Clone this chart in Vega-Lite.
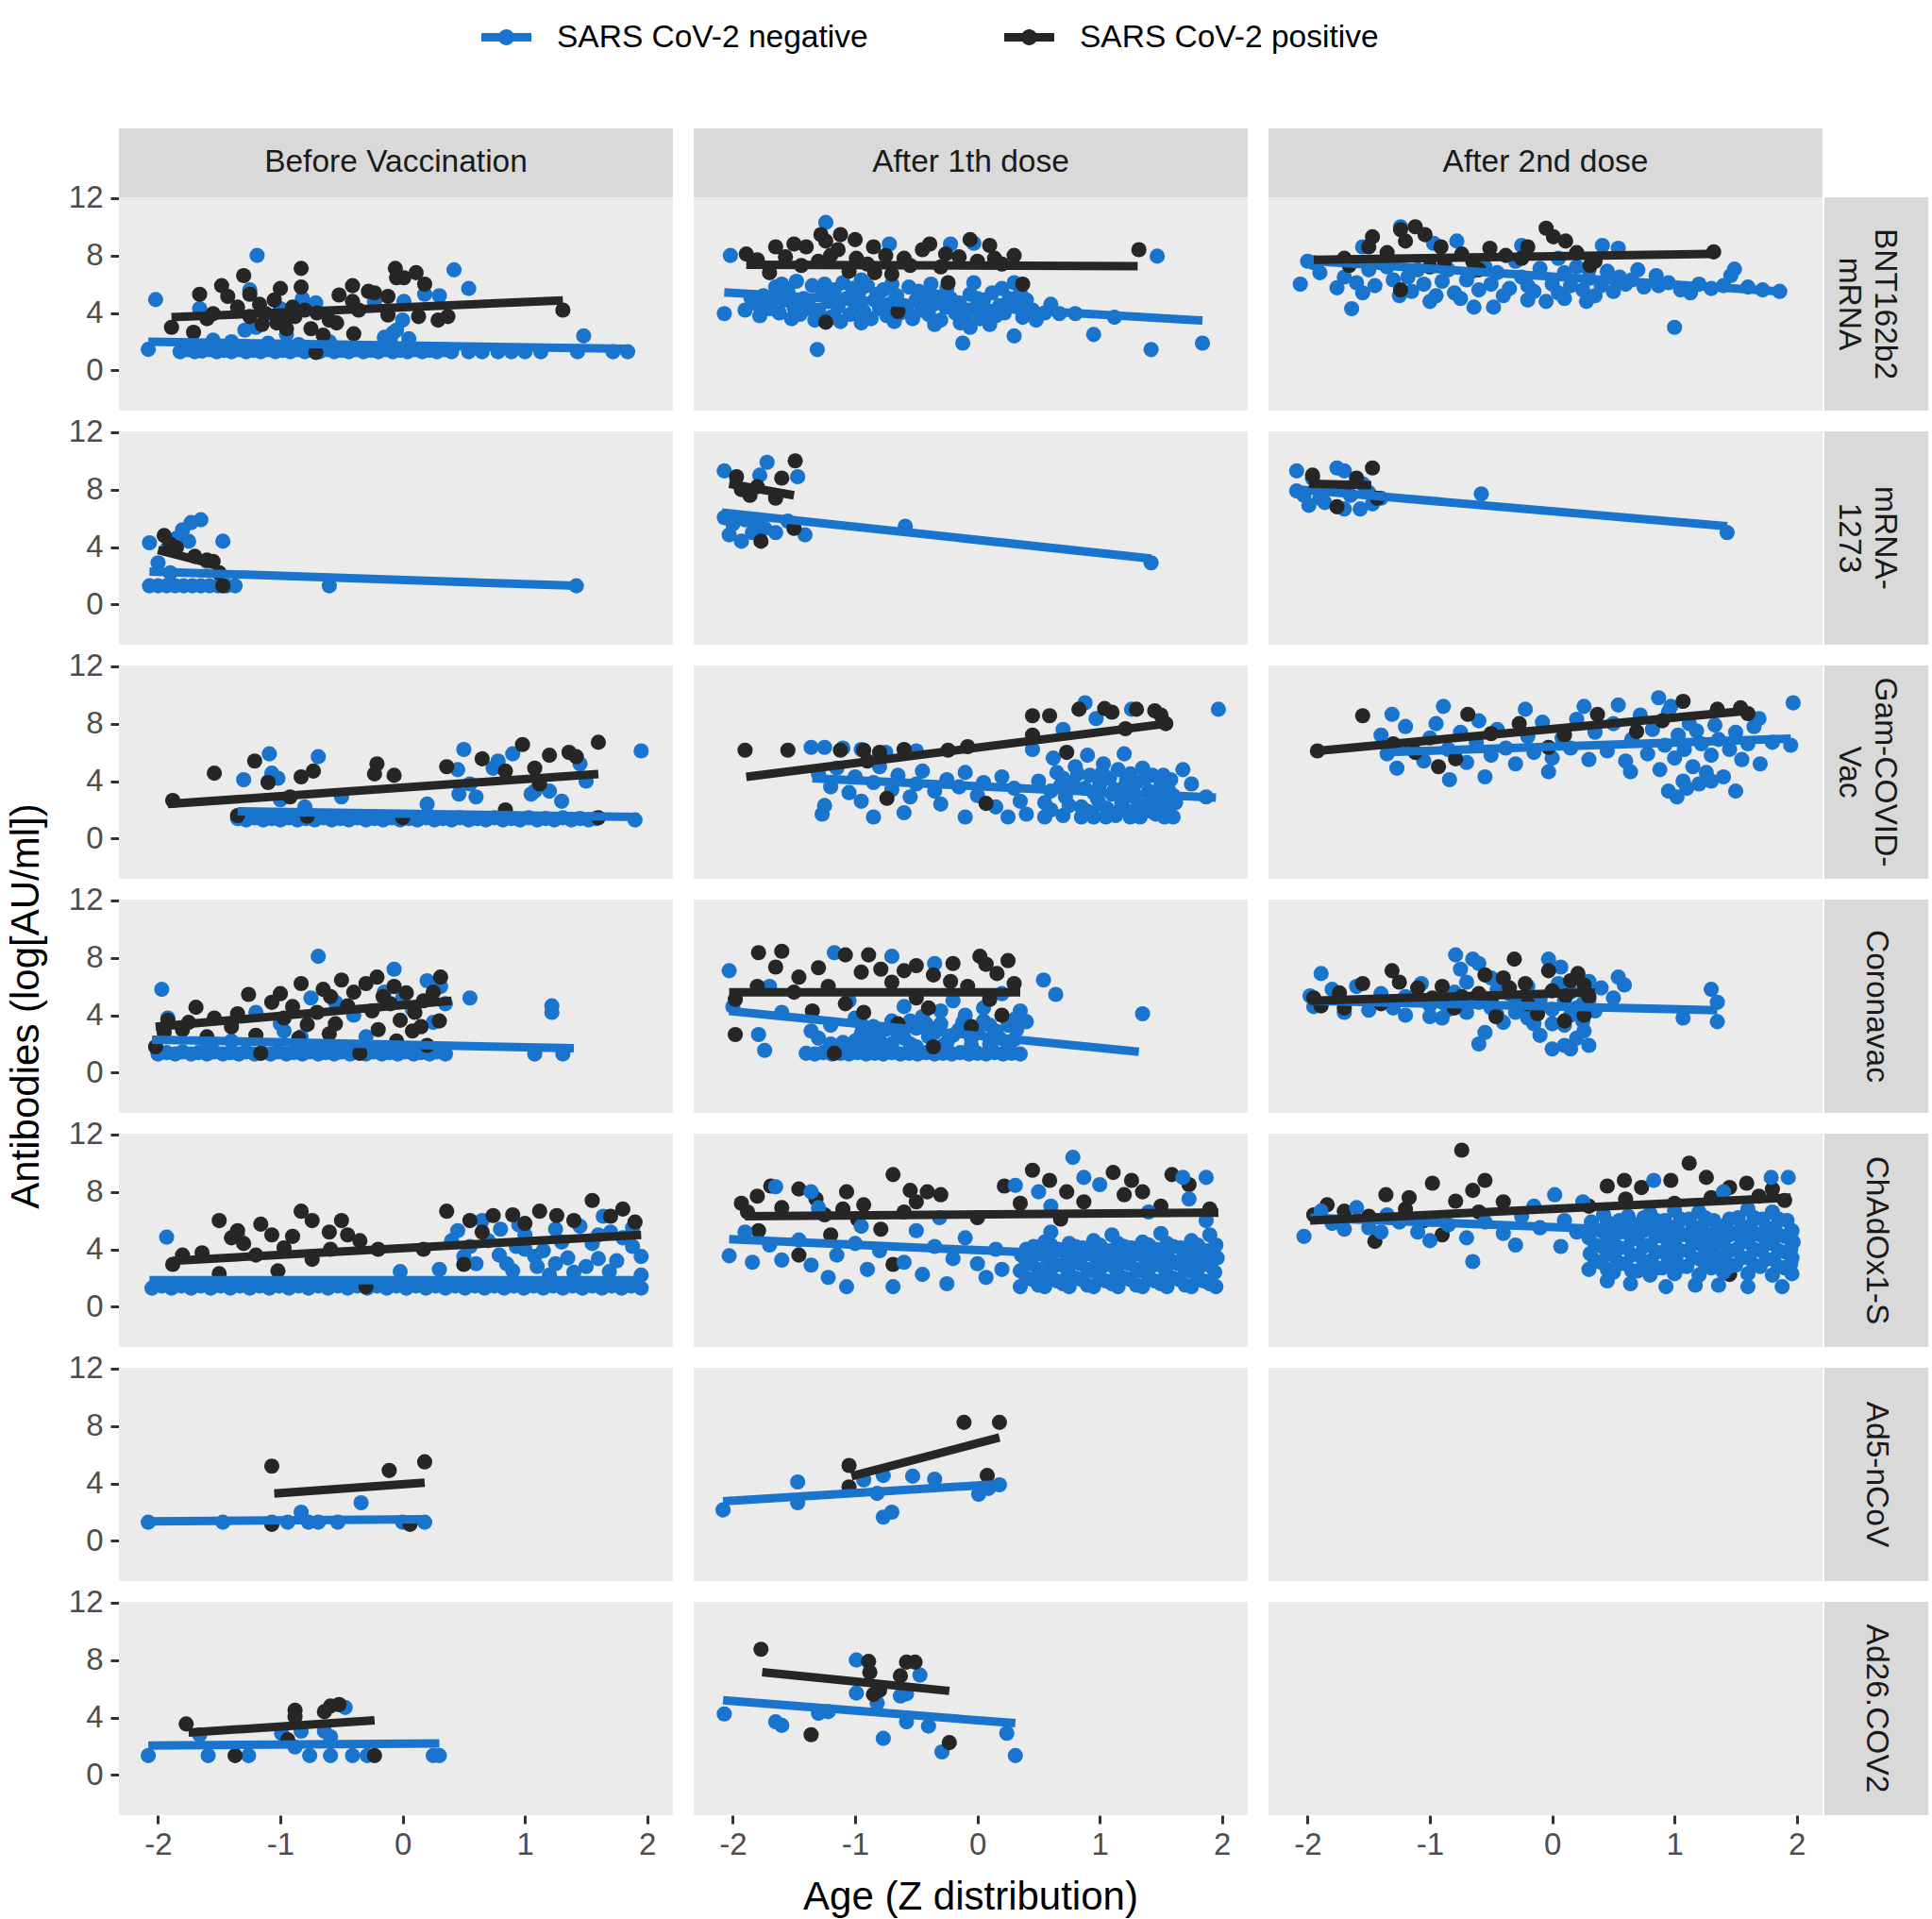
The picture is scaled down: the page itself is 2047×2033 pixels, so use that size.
{
"$schema":"https://vega.github.io/schema/vega-lite/v6.json",
"background":"white",
"padding":{"left":6,"top":13,"right":4,"bottom":2},
"data":{"values":[
{"k":"cell","v":1,"d":1,"cl":"Before Vaccination"},
{"k":"cell","v":1,"d":2,"cl":"After 1th dose"},
{"k":"cell","v":1,"d":3,"cl":"After 2nd dose","rl":"BNT162b2\nmRNA"},
{"k":"cell","v":2,"d":3,"rl":"mRNA-\n1273"},
{"k":"cell","v":3,"d":3,"rl":"Gam-COVID-\nVac"},
{"k":"cell","v":4,"d":3,"rl":"Coronavac"},
{"k":"cell","v":5,"d":3,"rl":"ChAdOx1-S"},
{"k":"cell","v":6,"d":3,"rl":"Ad5-nCoV"},
{"k":"cell","v":7,"d":3,"rl":"Ad26.COV2"},
{"k":"cell","v":4,"d":1,"yt":"Antibodies (log[AU/ml])"},
{"k":"cell","v":7,"d":2,"xt":"Age (Z distribution)"},
{"k":"line","v":1,"d":1,"g":"n","x":-2.08,"y":2.0},{"k":"line","v":1,"d":1,"g":"n","x":1.84,"y":1.5},
{"k":"line","v":1,"d":1,"g":"p","x":-1.89,"y":3.7},{"k":"line","v":1,"d":1,"g":"p","x":1.31,"y":4.87},
{"k":"line","v":1,"d":2,"g":"n","x":-2.07,"y":5.43},{"k":"line","v":1,"d":2,"g":"n","x":1.84,"y":3.47},
{"k":"line","v":1,"d":2,"g":"p","x":-1.89,"y":7.35},{"k":"line","v":1,"d":2,"g":"p","x":1.31,"y":7.25},
{"k":"line","v":1,"d":3,"g":"n","x":-2.03,"y":7.65},{"k":"line","v":1,"d":3,"g":"n","x":1.86,"y":5.5},
{"k":"line","v":1,"d":3,"g":"p","x":-1.95,"y":7.7},{"k":"line","v":1,"d":3,"g":"p","x":1.3,"y":8.1},
{"k":"line","v":2,"d":1,"g":"n","x":-2.07,"y":2.3},{"k":"line","v":2,"d":1,"g":"n","x":1.42,"y":1.3},
{"k":"line","v":2,"d":1,"g":"p","x":-2.0,"y":3.8},{"k":"line","v":2,"d":1,"g":"p","x":-1.5,"y":2.7},
{"k":"line","v":2,"d":2,"g":"n","x":-2.09,"y":6.4},{"k":"line","v":2,"d":2,"g":"n","x":1.42,"y":3.2},
{"k":"line","v":2,"d":2,"g":"p","x":-2.03,"y":8.4},{"k":"line","v":2,"d":2,"g":"p","x":-1.5,"y":7.6},
{"k":"line","v":2,"d":3,"g":"n","x":-2.06,"y":8.0},{"k":"line","v":2,"d":3,"g":"n","x":1.43,"y":5.45},
{"k":"line","v":2,"d":3,"g":"p","x":-1.99,"y":8.4},{"k":"line","v":2,"d":3,"g":"p","x":-1.48,"y":8.3},
{"k":"line","v":3,"d":1,"g":"n","x":-1.35,"y":1.9},{"k":"line","v":3,"d":1,"g":"n","x":1.93,"y":1.5},
{"k":"line","v":3,"d":1,"g":"p","x":-1.92,"y":2.4},{"k":"line","v":3,"d":1,"g":"p","x":1.6,"y":4.5},
{"k":"line","v":3,"d":2,"g":"n","x":-1.35,"y":4.2},{"k":"line","v":3,"d":2,"g":"n","x":1.95,"y":2.85},
{"k":"line","v":3,"d":2,"g":"p","x":-1.89,"y":4.3},{"k":"line","v":3,"d":2,"g":"p","x":1.55,"y":8.0},
{"k":"line","v":3,"d":3,"g":"n","x":-1.4,"y":6.0},{"k":"line","v":3,"d":3,"g":"n","x":1.95,"y":6.95},
{"k":"line","v":3,"d":3,"g":"p","x":-1.92,"y":6.1},{"k":"line","v":3,"d":3,"g":"p","x":1.6,"y":8.9},
{"k":"line","v":4,"d":1,"g":"n","x":-2.05,"y":2.3},{"k":"line","v":4,"d":1,"g":"n","x":1.4,"y":1.7},
{"k":"line","v":4,"d":1,"g":"p","x":-2.02,"y":3.2},{"k":"line","v":4,"d":1,"g":"p","x":0.4,"y":5.0},
{"k":"line","v":4,"d":2,"g":"n","x":-2.03,"y":4.3},{"k":"line","v":4,"d":2,"g":"n","x":1.32,"y":1.45},
{"k":"line","v":4,"d":2,"g":"p","x":-2.03,"y":5.6},{"k":"line","v":4,"d":2,"g":"p","x":0.35,"y":5.6},
{"k":"line","v":4,"d":3,"g":"n","x":-1.98,"y":5.0},{"k":"line","v":4,"d":3,"g":"n","x":1.35,"y":4.35},
{"k":"line","v":4,"d":3,"g":"p","x":-1.98,"y":5.0},{"k":"line","v":4,"d":3,"g":"p","x":0.35,"y":5.6},
{"k":"line","v":5,"d":1,"g":"n","x":-2.07,"y":1.85},{"k":"line","v":5,"d":1,"g":"n","x":1.97,"y":1.85},
{"k":"line","v":5,"d":1,"g":"p","x":-1.88,"y":3.2},{"k":"line","v":5,"d":1,"g":"p","x":1.95,"y":5.0},
{"k":"line","v":5,"d":2,"g":"n","x":-2.03,"y":4.7},{"k":"line","v":5,"d":2,"g":"n","x":1.97,"y":3.2},
{"k":"line","v":5,"d":2,"g":"p","x":-1.9,"y":6.3},{"k":"line","v":5,"d":2,"g":"p","x":1.97,"y":6.55},
{"k":"line","v":5,"d":3,"g":"n","x":-1.98,"y":6.2},{"k":"line","v":5,"d":3,"g":"n","x":1.95,"y":4.9},
{"k":"line","v":5,"d":3,"g":"p","x":-1.98,"y":6.0},{"k":"line","v":5,"d":3,"g":"p","x":1.95,"y":7.6},
{"k":"line","v":6,"d":1,"g":"n","x":-2.08,"y":1.35},{"k":"line","v":6,"d":1,"g":"n","x":0.18,"y":1.5},
{"k":"line","v":6,"d":1,"g":"p","x":-1.05,"y":3.3},{"k":"line","v":6,"d":1,"g":"p","x":0.18,"y":4.05},
{"k":"line","v":6,"d":2,"g":"n","x":-2.08,"y":2.75},{"k":"line","v":6,"d":2,"g":"n","x":0.18,"y":3.95},
{"k":"line","v":6,"d":2,"g":"p","x":-1.03,"y":4.5},{"k":"line","v":6,"d":2,"g":"p","x":0.18,"y":7.2},
{"k":"line","v":7,"d":1,"g":"n","x":-2.08,"y":2.05},{"k":"line","v":7,"d":1,"g":"n","x":0.3,"y":2.2},
{"k":"line","v":7,"d":1,"g":"p","x":-1.75,"y":2.95},{"k":"line","v":7,"d":1,"g":"p","x":-0.23,"y":3.8},
{"k":"line","v":7,"d":2,"g":"n","x":-2.08,"y":5.2},{"k":"line","v":7,"d":2,"g":"n","x":0.31,"y":3.6},
{"k":"line","v":7,"d":2,"g":"p","x":-1.76,"y":7.15},{"k":"line","v":7,"d":2,"g":"p","x":-0.23,"y":5.85},

{"v":1,"d":1,"g":"n","x":-2.08,"y":1.46},{"v":1,"d":1,"g":"n","x":-1.82,"y":1.3},{"v":1,"d":1,"g":"n","x":-1.76,"y":1.45},{"v":1,"d":1,"g":"n","x":-1.7,"y":1.3},{"v":1,"d":1,"g":"n","x":-1.64,"y":1.35},{"v":1,"d":1,"g":"n","x":-1.58,"y":1.45},{"v":1,"d":1,"g":"n","x":-1.52,"y":1.3},{"v":1,"d":1,"g":"n","x":-1.46,"y":1.4},{"v":1,"d":1,"g":"n","x":-1.4,"y":1.3},{"v":1,"d":1,"g":"n","x":-1.34,"y":1.45},{"v":1,"d":1,"g":"n","x":-1.28,"y":1.3},{"v":1,"d":1,"g":"n","x":-1.22,"y":1.4},{"v":1,"d":1,"g":"n","x":-1.16,"y":1.3},{"v":1,"d":1,"g":"n","x":-1.1,"y":1.45},{"v":1,"d":1,"g":"n","x":-1.04,"y":1.3},{"v":1,"d":1,"g":"n","x":-0.98,"y":1.4},{"v":1,"d":1,"g":"n","x":-0.92,"y":1.3},{"v":1,"d":1,"g":"n","x":-0.86,"y":1.45},{"v":1,"d":1,"g":"n","x":-0.8,"y":1.3},{"v":1,"d":1,"g":"n","x":-0.74,"y":1.4},{"v":1,"d":1,"g":"n","x":-0.68,"y":1.3},{"v":1,"d":1,"g":"n","x":-0.62,"y":1.45},{"v":1,"d":1,"g":"n","x":-0.56,"y":1.3},{"v":1,"d":1,"g":"n","x":-0.5,"y":1.4},{"v":1,"d":1,"g":"n","x":-0.44,"y":1.3},{"v":1,"d":1,"g":"n","x":-0.38,"y":1.45},{"v":1,"d":1,"g":"n","x":-0.32,"y":1.3},{"v":1,"d":1,"g":"n","x":-0.26,"y":1.4},{"v":1,"d":1,"g":"n","x":-0.2,"y":1.3},{"v":1,"d":1,"g":"n","x":-0.14,"y":1.45},{"v":1,"d":1,"g":"n","x":-0.08,"y":1.3},{"v":1,"d":1,"g":"n","x":-0.02,"y":1.4},{"v":1,"d":1,"g":"n","x":0.04,"y":1.3},{"v":1,"d":1,"g":"n","x":0.1,"y":1.45},{"v":1,"d":1,"g":"n","x":0.16,"y":1.3},{"v":1,"d":1,"g":"n","x":0.22,"y":1.4},{"v":1,"d":1,"g":"n","x":0.28,"y":1.3},{"v":1,"d":1,"g":"n","x":0.34,"y":1.45},{"v":1,"d":1,"g":"n","x":0.4,"y":1.3},{"v":1,"d":1,"g":"n","x":0.54,"y":1.3},{"v":1,"d":1,"g":"n","x":0.65,"y":1.3},{"v":1,"d":1,"g":"n","x":0.78,"y":1.3},{"v":1,"d":1,"g":"n","x":0.89,"y":1.3},{"v":1,"d":1,"g":"n","x":1.0,"y":1.3},{"v":1,"d":1,"g":"n","x":1.13,"y":1.3},{"v":1,"d":1,"g":"n","x":1.43,"y":1.3},{"v":1,"d":1,"g":"n","x":1.72,"y":1.3},{"v":1,"d":1,"g":"n","x":1.84,"y":1.3},
{"v":1,"d":1,"g":"n","x":-2.02,"y":4.93},{"v":1,"d":1,"g":"n","x":-1.19,"y":8.0},{"v":1,"d":1,"g":"n","x":1.48,"y":2.4},{"v":1,"d":1,"g":"n","x":0.42,"y":7.0},{"v":1,"d":1,"g":"n","x":0.54,"y":5.7},{"v":1,"d":1,"g":"n","x":0.3,"y":5.2},{"v":1,"d":1,"g":"n","x":0.18,"y":5.3},{"v":1,"d":1,"g":"n","x":-0.08,"y":2.6},{"v":1,"d":1,"g":"n","x":-0.15,"y":2.3},{"v":1,"d":1,"g":"n","x":-0.71,"y":4.7},{"v":1,"d":1,"g":"n","x":-0.82,"y":5.0},{"v":1,"d":1,"g":"n","x":-1.25,"y":5.6},{"v":1,"d":1,"g":"n","x":-1.29,"y":2.8},{"v":1,"d":1,"g":"n","x":-1.66,"y":4.3},{"v":1,"d":1,"g":"n","x":-1.55,"y":2.1},{"v":1,"d":1,"g":"n","x":-1.0,"y":4.3},{"v":1,"d":1,"g":"n","x":-0.23,"y":4.8},{"v":1,"d":1,"g":"n","x":0.01,"y":4.8},{"v":1,"d":1,"g":"n","x":-0.1,"y":2.0},{"v":1,"d":1,"g":"n","x":0.05,"y":2.2},{"v":1,"d":1,"g":"n","x":-1.1,"y":1.9},{"v":1,"d":1,"g":"n","x":-0.6,"y":2.0},{"v":1,"d":1,"g":"n","x":-0.85,"y":1.8},{"v":1,"d":1,"g":"n","x":-1.4,"y":2.0},{"v":1,"d":1,"g":"n","x":0.0,"y":3.5},{"v":1,"d":1,"g":"n","x":-0.05,"y":2.8},{"v":1,"d":1,"g":"n","x":-1.2,"y":3.0},{"v":1,"d":1,"g":"n","x":-0.95,"y":2.5},
{"v":1,"d":1,"g":"p","x":-1.89,"y":3.0},{"v":1,"d":1,"g":"p","x":-1.66,"y":5.3},{"v":1,"d":1,"g":"p","x":-1.71,"y":2.65},{"v":1,"d":1,"g":"p","x":-1.55,"y":3.95},{"v":1,"d":1,"g":"p","x":-1.48,"y":5.9},{"v":1,"d":1,"g":"p","x":-1.43,"y":5.15},{"v":1,"d":1,"g":"p","x":-1.3,"y":6.6},{"v":1,"d":1,"g":"p","x":-1.25,"y":5.3},{"v":1,"d":1,"g":"p","x":-1.25,"y":3.75},{"v":1,"d":1,"g":"p","x":-1.17,"y":4.6},{"v":1,"d":1,"g":"p","x":-1.12,"y":3.95},{"v":1,"d":1,"g":"p","x":-1.0,"y":5.7},{"v":1,"d":1,"g":"p","x":-1.03,"y":3.3},{"v":1,"d":1,"g":"p","x":-0.95,"y":2.9},{"v":1,"d":1,"g":"p","x":-0.88,"y":3.75},{"v":1,"d":1,"g":"p","x":-0.83,"y":7.1},{"v":1,"d":1,"g":"p","x":-0.83,"y":5.8},{"v":1,"d":1,"g":"p","x":-0.8,"y":4.2},{"v":1,"d":1,"g":"p","x":-0.65,"y":2.45},{"v":1,"d":1,"g":"p","x":-0.71,"y":1.25},{"v":1,"d":1,"g":"p","x":-0.52,"y":5.25},{"v":1,"d":1,"g":"p","x":-0.54,"y":3.3},{"v":1,"d":1,"g":"p","x":-0.41,"y":5.9},{"v":1,"d":1,"g":"p","x":-0.41,"y":4.8},{"v":1,"d":1,"g":"p","x":-0.4,"y":2.55},{"v":1,"d":1,"g":"p","x":-0.36,"y":4.2},{"v":1,"d":1,"g":"p","x":-0.28,"y":5.5},{"v":1,"d":1,"g":"p","x":-0.23,"y":5.4},{"v":1,"d":1,"g":"p","x":-0.12,"y":5.15},{"v":1,"d":1,"g":"p","x":-0.06,"y":7.1},{"v":1,"d":1,"g":"p","x":-0.05,"y":6.45},{"v":1,"d":1,"g":"p","x":0.01,"y":6.45},{"v":1,"d":1,"g":"p","x":0.11,"y":6.8},{"v":1,"d":1,"g":"p","x":0.18,"y":6.0},{"v":1,"d":1,"g":"p","x":-0.12,"y":3.85},{"v":1,"d":1,"g":"p","x":0.13,"y":3.75},{"v":1,"d":1,"g":"p","x":0.29,"y":3.5},{"v":1,"d":1,"g":"p","x":0.37,"y":3.75},{"v":1,"d":1,"g":"p","x":1.31,"y":4.2},{"v":1,"d":1,"g":"p","x":-1.6,"y":3.6},{"v":1,"d":1,"g":"p","x":-1.35,"y":4.4},{"v":1,"d":1,"g":"p","x":-1.05,"y":4.9},{"v":1,"d":1,"g":"p","x":-0.95,"y":3.6},{"v":1,"d":1,"g":"p","x":-0.7,"y":4.0},{"v":1,"d":1,"g":"p","x":-0.6,"y":3.5},{"v":1,"d":1,"g":"p","x":-0.9,"y":4.4},{"v":1,"d":1,"g":"p","x":-1.15,"y":3.2},{"v":1,"d":1,"g":"p","x":-0.75,"y":2.9},

{"v":1,"d":2,"g":"n","x":-2.07,"y":3.95},{"v":1,"d":2,"g":"n","x":-2.02,"y":8.0},{"v":1,"d":2,"g":"n","x":-1.8,"y":4.6},{"v":1,"d":2,"g":"n","x":-1.75,"y":5.2},{"v":1,"d":2,"g":"n","x":-1.7,"y":4.3},{"v":1,"d":2,"g":"n","x":-1.65,"y":5.8},{"v":1,"d":2,"g":"n","x":-1.62,"y":4.0},{"v":1,"d":2,"g":"n","x":-1.58,"y":4.9},{"v":1,"d":2,"g":"n","x":-1.55,"y":5.5},{"v":1,"d":2,"g":"n","x":-1.5,"y":4.4},{"v":1,"d":2,"g":"n","x":-1.45,"y":3.9},{"v":1,"d":2,"g":"n","x":-1.42,"y":5.0},{"v":1,"d":2,"g":"n","x":-1.38,"y":4.6},{"v":1,"d":2,"g":"n","x":-1.35,"y":5.9},{"v":1,"d":2,"g":"n","x":-1.31,"y":1.45},{"v":1,"d":2,"g":"n","x":-1.3,"y":4.2},{"v":1,"d":2,"g":"n","x":-1.27,"y":5.3},{"v":1,"d":2,"g":"n","x":-1.24,"y":10.3},{"v":1,"d":2,"g":"n","x":-1.22,"y":4.8},{"v":1,"d":2,"g":"n","x":-1.2,"y":3.7},{"v":1,"d":2,"g":"n","x":-1.17,"y":5.6},{"v":1,"d":2,"g":"n","x":-1.14,"y":4.4},{"v":1,"d":2,"g":"n","x":-1.1,"y":6.1},{"v":1,"d":2,"g":"n","x":-1.07,"y":5.0},{"v":1,"d":2,"g":"n","x":-1.04,"y":3.9},{"v":1,"d":2,"g":"n","x":-1.0,"y":4.6},{"v":1,"d":2,"g":"n","x":-0.97,"y":5.4},{"v":1,"d":2,"g":"n","x":-0.93,"y":4.1},{"v":1,"d":2,"g":"n","x":-0.9,"y":5.9},{"v":1,"d":2,"g":"n","x":-0.87,"y":3.6},{"v":1,"d":2,"g":"n","x":-0.84,"y":4.9},{"v":1,"d":2,"g":"n","x":-0.8,"y":4.3},{"v":1,"d":2,"g":"n","x":-0.77,"y":5.6},{"v":1,"d":2,"g":"n","x":-0.74,"y":3.8},{"v":1,"d":2,"g":"n","x":-0.72,"y":8.8},{"v":1,"d":2,"g":"n","x":-0.7,"y":4.7},{"v":1,"d":2,"g":"n","x":-0.66,"y":5.2},{"v":1,"d":2,"g":"n","x":-0.63,"y":4.0},{"v":1,"d":2,"g":"n","x":-0.6,"y":4.5},{"v":1,"d":2,"g":"n","x":-0.56,"y":5.8},{"v":1,"d":2,"g":"n","x":-0.53,"y":3.6},{"v":1,"d":2,"g":"n","x":-0.5,"y":4.9},{"v":1,"d":2,"g":"n","x":-0.46,"y":4.2},{"v":1,"d":2,"g":"n","x":-0.43,"y":5.4},{"v":1,"d":2,"g":"n","x":-0.4,"y":3.9},{"v":1,"d":2,"g":"n","x":-0.36,"y":4.6},{"v":1,"d":2,"g":"n","x":-0.33,"y":5.1},{"v":1,"d":2,"g":"n","x":-0.3,"y":3.5},{"v":1,"d":2,"g":"n","x":-0.26,"y":4.4},{"v":1,"d":2,"g":"n","x":-0.22,"y":8.8},{"v":1,"d":2,"g":"n","x":-0.22,"y":5.0},{"v":1,"d":2,"g":"n","x":-0.18,"y":4.0},{"v":1,"d":2,"g":"n","x":-0.15,"y":4.7},{"v":1,"d":2,"g":"n","x":-0.12,"y":1.9},{"v":1,"d":2,"g":"n","x":-0.1,"y":3.7},{"v":1,"d":2,"g":"n","x":-0.06,"y":3.0},{"v":1,"d":2,"g":"n","x":-0.06,"y":5.3},{"v":1,"d":2,"g":"n","x":-0.03,"y":8.85},{"v":1,"d":2,"g":"n","x":-0.03,"y":6.1},{"v":1,"d":2,"g":"n","x":-0.02,"y":4.3},{"v":1,"d":2,"g":"n","x":0.02,"y":3.6},{"v":1,"d":2,"g":"n","x":0.05,"y":4.9},{"v":1,"d":2,"g":"n","x":0.08,"y":4.1},{"v":1,"d":2,"g":"n","x":0.12,"y":5.4},{"v":1,"d":2,"g":"n","x":0.15,"y":3.8},{"v":1,"d":2,"g":"n","x":0.18,"y":4.5},{"v":1,"d":2,"g":"n","x":0.22,"y":4.0},{"v":1,"d":2,"g":"n","x":0.26,"y":5.0},{"v":1,"d":2,"g":"n","x":0.3,"y":2.4},{"v":1,"d":2,"g":"n","x":0.3,"y":6.1},{"v":1,"d":2,"g":"n","x":0.33,"y":4.4},{"v":1,"d":2,"g":"n","x":0.37,"y":3.7},{"v":1,"d":2,"g":"n","x":0.4,"y":4.9},{"v":1,"d":2,"g":"n","x":0.45,"y":4.2},{"v":1,"d":2,"g":"n","x":0.67,"y":3.95},{"v":1,"d":2,"g":"n","x":0.8,"y":3.95},{"v":1,"d":2,"g":"n","x":0.95,"y":2.5},{"v":1,"d":2,"g":"n","x":1.12,"y":3.7},{"v":1,"d":2,"g":"n","x":1.42,"y":1.45},{"v":1,"d":2,"g":"n","x":1.47,"y":7.95},{"v":1,"d":2,"g":"n","x":1.84,"y":1.9},{"v":1,"d":2,"g":"n","x":0.55,"y":4.0},{"v":1,"d":2,"g":"n","x":-1.6,"y":6.0},{"v":1,"d":2,"g":"n","x":-1.48,"y":6.2},{"v":1,"d":2,"g":"n","x":-0.95,"y":6.3},{"v":1,"d":2,"g":"n","x":-0.38,"y":6.0},
{"v":1,"d":2,"g":"n","x":-1.85,"y":5.0},{"v":1,"d":2,"g":"n","x":-1.78,"y":3.8},{"v":1,"d":2,"g":"n","x":-1.68,"y":4.8},{"v":1,"d":2,"g":"n","x":-1.52,"y":3.6},{"v":1,"d":2,"g":"n","x":-1.4,"y":4.3},{"v":1,"d":2,"g":"n","x":-1.33,"y":3.5},{"v":1,"d":2,"g":"n","x":-1.25,"y":6.0},{"v":1,"d":2,"g":"n","x":-1.12,"y":3.4},{"v":1,"d":2,"g":"n","x":-1.02,"y":5.7},{"v":1,"d":2,"g":"n","x":-0.95,"y":3.3},{"v":1,"d":2,"g":"n","x":-0.82,"y":5.3},{"v":1,"d":2,"g":"n","x":-0.68,"y":3.4},{"v":1,"d":2,"g":"n","x":-0.58,"y":4.2},{"v":1,"d":2,"g":"n","x":-0.48,"y":5.5},{"v":1,"d":2,"g":"n","x":-0.35,"y":3.2},{"v":1,"d":2,"g":"n","x":-0.25,"y":5.7},{"v":1,"d":2,"g":"n","x":-0.14,"y":3.3},{"v":1,"d":2,"g":"n","x":0.0,"y":5.0},{"v":1,"d":2,"g":"n","x":0.1,"y":3.2},{"v":1,"d":2,"g":"n","x":0.2,"y":5.7},{"v":1,"d":2,"g":"n","x":0.35,"y":5.4},{"v":1,"d":2,"g":"n","x":0.48,"y":3.5},{"v":1,"d":2,"g":"n","x":0.6,"y":4.6},{"v":1,"d":2,"g":"n","x":-1.9,"y":4.2},{"v":1,"d":2,"g":"n","x":-0.7,"y":6.0},
{"v":1,"d":2,"g":"p","x":-1.89,"y":8.1},{"v":1,"d":2,"g":"p","x":-1.65,"y":8.6},{"v":1,"d":2,"g":"p","x":-1.5,"y":8.8},{"v":1,"d":2,"g":"p","x":-1.4,"y":8.6},{"v":1,"d":2,"g":"p","x":-1.28,"y":9.45},{"v":1,"d":2,"g":"p","x":-1.24,"y":9.0},{"v":1,"d":2,"g":"p","x":-1.12,"y":9.45},{"v":1,"d":2,"g":"p","x":-1.0,"y":9.1},{"v":1,"d":2,"g":"p","x":-1.14,"y":8.4},{"v":1,"d":2,"g":"p","x":-0.99,"y":7.8},{"v":1,"d":2,"g":"p","x":-0.85,"y":8.6},{"v":1,"d":2,"g":"p","x":-0.84,"y":6.8},{"v":1,"d":2,"g":"p","x":-0.7,"y":6.7},{"v":1,"d":2,"g":"p","x":-1.7,"y":6.8},{"v":1,"d":2,"g":"p","x":-1.57,"y":7.9},{"v":1,"d":2,"g":"p","x":-1.44,"y":7.3},{"v":1,"d":2,"g":"p","x":-1.24,"y":3.35},{"v":1,"d":2,"g":"p","x":-0.65,"y":4.1},{"v":1,"d":2,"g":"p","x":-0.45,"y":8.4},{"v":1,"d":2,"g":"p","x":-0.39,"y":8.8},{"v":1,"d":2,"g":"p","x":-0.26,"y":8.1},{"v":1,"d":2,"g":"p","x":-0.06,"y":9.1},{"v":1,"d":2,"g":"p","x":0.1,"y":8.7},{"v":1,"d":2,"g":"p","x":0.14,"y":7.8},{"v":1,"d":2,"g":"p","x":0.3,"y":8.0},{"v":1,"d":2,"g":"p","x":-0.24,"y":6.1},{"v":1,"d":2,"g":"p","x":0.37,"y":6.0},{"v":1,"d":2,"g":"p","x":1.32,"y":8.4},{"v":1,"d":2,"g":"p","x":-0.55,"y":7.3},{"v":1,"d":2,"g":"p","x":-1.3,"y":7.6},{"v":1,"d":2,"g":"p","x":-1.8,"y":7.7},{"v":1,"d":2,"g":"p","x":-1.2,"y":8.0},{"v":1,"d":2,"g":"p","x":-0.9,"y":7.4},{"v":1,"d":2,"g":"p","x":-0.6,"y":7.8},{"v":1,"d":2,"g":"p","x":-0.3,"y":7.2},{"v":1,"d":2,"g":"p","x":0.0,"y":7.6},{"v":1,"d":2,"g":"p","x":0.2,"y":7.4},{"v":1,"d":2,"g":"p","x":-1.05,"y":6.9},{"v":1,"d":2,"g":"p","x":-0.15,"y":7.9},{"v":1,"d":2,"g":"p","x":-0.75,"y":8.0},

{"v":1,"d":3,"g":"n","x":-2.06,"y":6.0},{"v":1,"d":3,"g":"n","x":-2.0,"y":7.6},{"v":1,"d":3,"g":"n","x":-1.95,"y":7.5},{"v":1,"d":3,"g":"n","x":-1.76,"y":5.75},{"v":1,"d":3,"g":"n","x":-1.64,"y":4.3},{"v":1,"d":3,"g":"n","x":-1.6,"y":6.1},{"v":1,"d":3,"g":"n","x":-1.55,"y":5.4},{"v":1,"d":3,"g":"n","x":-1.45,"y":5.9},{"v":1,"d":3,"g":"n","x":-1.24,"y":10.0},{"v":1,"d":3,"g":"n","x":-1.18,"y":6.5},{"v":1,"d":3,"g":"n","x":-1.0,"y":4.8},{"v":1,"d":3,"g":"n","x":-1.1,"y":7.0},{"v":1,"d":3,"g":"n","x":-0.9,"y":6.2},{"v":1,"d":3,"g":"n","x":-0.8,"y":5.4},{"v":1,"d":3,"g":"n","x":-0.64,"y":4.4},{"v":1,"d":3,"g":"n","x":-0.48,"y":4.4},{"v":1,"d":3,"g":"n","x":-0.05,"y":4.8},{"v":1,"d":3,"g":"n","x":0.28,"y":4.8},{"v":1,"d":3,"g":"n","x":0.41,"y":8.7},{"v":1,"d":3,"g":"n","x":0.54,"y":8.5},{"v":1,"d":3,"g":"n","x":0.6,"y":6.0},{"v":1,"d":3,"g":"n","x":0.87,"y":5.9},{"v":1,"d":3,"g":"n","x":1.0,"y":3.0},{"v":1,"d":3,"g":"n","x":1.13,"y":5.4},{"v":1,"d":3,"g":"n","x":1.46,"y":6.6},{"v":1,"d":3,"g":"n","x":1.49,"y":7.05},{"v":1,"d":3,"g":"n","x":1.72,"y":5.6},{"v":1,"d":3,"g":"n","x":1.86,"y":5.5},{"v":1,"d":3,"g":"n","x":-0.25,"y":8.7},{"v":1,"d":3,"g":"n","x":-0.78,"y":9.0},{"v":1,"d":3,"g":"n","x":-0.97,"y":8.85},{"v":1,"d":3,"g":"n","x":-0.7,"y":6.3},{"v":1,"d":3,"g":"n","x":-0.6,"y":5.6},{"v":1,"d":3,"g":"n","x":-0.45,"y":6.8},{"v":1,"d":3,"g":"n","x":-0.35,"y":5.7},{"v":1,"d":3,"g":"n","x":-0.25,"y":6.5},{"v":1,"d":3,"g":"n","x":-0.15,"y":5.5},{"v":1,"d":3,"g":"n","x":-0.1,"y":7.1},{"v":1,"d":3,"g":"n","x":0.0,"y":6.0},{"v":1,"d":3,"g":"n","x":0.05,"y":5.4},{"v":1,"d":3,"g":"n","x":0.1,"y":6.8},{"v":1,"d":3,"g":"n","x":0.15,"y":5.9},{"v":1,"d":3,"g":"n","x":0.2,"y":7.2},{"v":1,"d":3,"g":"n","x":0.25,"y":5.6},{"v":1,"d":3,"g":"n","x":0.3,"y":6.4},{"v":1,"d":3,"g":"n","x":0.4,"y":5.9},{"v":1,"d":3,"g":"n","x":0.45,"y":6.9},{"v":1,"d":3,"g":"n","x":0.5,"y":5.5},{"v":1,"d":3,"g":"n","x":0.65,"y":6.3},{"v":1,"d":3,"g":"n","x":0.75,"y":5.8},{"v":1,"d":3,"g":"n","x":0.95,"y":6.1},{"v":1,"d":3,"g":"n","x":1.2,"y":6.0},{"v":1,"d":3,"g":"n","x":1.3,"y":5.7},{"v":1,"d":3,"g":"n","x":-1.3,"y":6.3},{"v":1,"d":3,"g":"n","x":-1.15,"y":5.5},{"v":1,"d":3,"g":"n","x":-0.55,"y":7.2},{"v":1,"d":3,"g":"n","x":-0.85,"y":7.0},{"v":1,"d":3,"g":"n","x":-1.35,"y":7.2},{"v":1,"d":3,"g":"n","x":-0.3,"y":7.6},{"v":1,"d":3,"g":"n","x":0.05,"y":7.8},{"v":1,"d":3,"g":"n","x":-1.55,"y":8.6},{"v":1,"d":3,"g":"n","x":-0.4,"y":5.2},{"v":1,"d":3,"g":"n","x":0.35,"y":5.2},{"v":1,"d":3,"g":"n","x":-0.2,"y":4.9},
{"v":1,"d":3,"g":"n","x":-1.9,"y":6.8},{"v":1,"d":3,"g":"n","x":-1.7,"y":6.5},{"v":1,"d":3,"g":"n","x":-1.5,"y":7.0},{"v":1,"d":3,"g":"n","x":-1.25,"y":5.2},{"v":1,"d":3,"g":"n","x":-1.05,"y":6.0},{"v":1,"d":3,"g":"n","x":-0.95,"y":5.2},{"v":1,"d":3,"g":"n","x":-0.75,"y":5.0},{"v":1,"d":3,"g":"n","x":-0.5,"y":6.0},{"v":1,"d":3,"g":"n","x":-0.2,"y":5.9},{"v":1,"d":3,"g":"n","x":0.1,"y":5.0},{"v":1,"d":3,"g":"n","x":0.3,"y":7.0},{"v":1,"d":3,"g":"n","x":0.55,"y":6.5},{"v":1,"d":3,"g":"n","x":0.7,"y":7.0},{"v":1,"d":3,"g":"n","x":0.85,"y":6.6},{"v":1,"d":3,"g":"n","x":1.05,"y":5.6},{"v":1,"d":3,"g":"n","x":1.4,"y":5.9},{"v":1,"d":3,"g":"n","x":1.6,"y":5.8},{"v":1,"d":3,"g":"n","x":-0.65,"y":6.9},
{"v":1,"d":3,"g":"p","x":-1.5,"y":8.6},{"v":1,"d":3,"g":"p","x":-1.66,"y":7.3},{"v":1,"d":3,"g":"p","x":-1.47,"y":9.3},{"v":1,"d":3,"g":"p","x":-1.24,"y":9.8},{"v":1,"d":3,"g":"p","x":-1.12,"y":10.0},{"v":1,"d":3,"g":"p","x":-1.04,"y":9.45},{"v":1,"d":3,"g":"p","x":-1.2,"y":9.0},{"v":1,"d":3,"g":"p","x":-1.35,"y":8.2},{"v":1,"d":3,"g":"p","x":-0.91,"y":8.6},{"v":1,"d":3,"g":"p","x":-0.74,"y":8.1},{"v":1,"d":3,"g":"p","x":-0.51,"y":8.5},{"v":1,"d":3,"g":"p","x":-0.38,"y":8.0},{"v":1,"d":3,"g":"p","x":-0.05,"y":9.9},{"v":1,"d":3,"g":"p","x":0.01,"y":9.3},{"v":1,"d":3,"g":"p","x":0.11,"y":9.0},{"v":1,"d":3,"g":"p","x":0.31,"y":7.3},{"v":1,"d":3,"g":"p","x":-0.25,"y":7.8},{"v":1,"d":3,"g":"p","x":-0.65,"y":7.6},{"v":1,"d":3,"g":"p","x":-0.88,"y":7.6},{"v":1,"d":3,"g":"p","x":-1.24,"y":5.6},{"v":1,"d":3,"g":"p","x":-1.7,"y":7.8},{"v":1,"d":3,"g":"p","x":1.32,"y":8.25},{"v":1,"d":3,"g":"p","x":0.35,"y":7.6},{"v":1,"d":3,"g":"p","x":-1.0,"y":7.2},{"v":1,"d":3,"g":"p","x":-0.2,"y":8.6},{"v":1,"d":3,"g":"p","x":0.2,"y":8.2},{"v":1,"d":3,"g":"p","x":-1.4,"y":7.5},{"v":1,"d":3,"g":"p","x":-0.6,"y":7.0},

{"v":2,"d":1,"g":"n","x":-2.07,"y":1.3},{"v":2,"d":1,"g":"n","x":-2.0,"y":1.3},{"v":2,"d":1,"g":"n","x":-1.93,"y":1.3},{"v":2,"d":1,"g":"n","x":-1.86,"y":1.3},{"v":2,"d":1,"g":"n","x":-1.79,"y":1.3},{"v":2,"d":1,"g":"n","x":-1.72,"y":1.3},{"v":2,"d":1,"g":"n","x":-1.65,"y":1.3},{"v":2,"d":1,"g":"n","x":-1.58,"y":1.3},{"v":2,"d":1,"g":"n","x":-1.51,"y":1.3},{"v":2,"d":1,"g":"n","x":-1.44,"y":1.3},{"v":2,"d":1,"g":"n","x":-1.37,"y":1.3},{"v":2,"d":1,"g":"n","x":-0.6,"y":1.3},{"v":2,"d":1,"g":"n","x":1.42,"y":1.3},{"v":2,"d":1,"g":"n","x":-2.07,"y":4.3},{"v":2,"d":1,"g":"n","x":-2.0,"y":2.9},{"v":2,"d":1,"g":"n","x":-1.92,"y":3.95},{"v":2,"d":1,"g":"n","x":-1.85,"y":4.6},{"v":2,"d":1,"g":"n","x":-1.8,"y":5.2},{"v":2,"d":1,"g":"n","x":-1.73,"y":5.7},{"v":2,"d":1,"g":"n","x":-1.65,"y":5.9},{"v":2,"d":1,"g":"n","x":-1.75,"y":4.4},{"v":2,"d":1,"g":"n","x":-1.47,"y":4.4},{"v":2,"d":1,"g":"n","x":-1.9,"y":2.2},{"v":2,"d":1,"g":"n","x":-1.6,"y":3.0},
{"v":2,"d":1,"g":"p","x":-1.95,"y":4.8},{"v":2,"d":1,"g":"p","x":-1.85,"y":3.95},{"v":2,"d":1,"g":"p","x":-1.7,"y":3.35},{"v":2,"d":1,"g":"p","x":-1.6,"y":3.1},{"v":2,"d":1,"g":"p","x":-1.5,"y":2.2},{"v":2,"d":1,"g":"p","x":-1.47,"y":1.3},{"v":2,"d":1,"g":"p","x":-1.55,"y":3.0},{"v":2,"d":1,"g":"p","x":-1.9,"y":4.2},

{"v":2,"d":2,"g":"n","x":-2.07,"y":9.3},{"v":2,"d":2,"g":"n","x":-1.72,"y":9.9},{"v":2,"d":2,"g":"n","x":-1.47,"y":8.9},{"v":2,"d":2,"g":"n","x":-1.78,"y":9.0},{"v":2,"d":2,"g":"n","x":-2.07,"y":6.05},{"v":2,"d":2,"g":"n","x":-2.03,"y":4.85},{"v":2,"d":2,"g":"n","x":-1.93,"y":4.4},{"v":2,"d":2,"g":"n","x":-1.84,"y":5.0},{"v":2,"d":2,"g":"n","x":-1.74,"y":5.3},{"v":2,"d":2,"g":"n","x":-1.41,"y":4.85},{"v":2,"d":2,"g":"n","x":-0.59,"y":5.45},{"v":2,"d":2,"g":"n","x":1.42,"y":2.9},{"v":2,"d":2,"g":"n","x":-2.0,"y":5.6},{"v":2,"d":2,"g":"n","x":-1.9,"y":5.9},{"v":2,"d":2,"g":"n","x":-1.8,"y":5.6},{"v":2,"d":2,"g":"n","x":-1.65,"y":5.0},{"v":2,"d":2,"g":"n","x":-1.55,"y":5.8},
{"v":2,"d":2,"g":"p","x":-1.97,"y":8.9},{"v":2,"d":2,"g":"p","x":-1.93,"y":8.0},{"v":2,"d":2,"g":"p","x":-1.49,"y":10.0},{"v":2,"d":2,"g":"p","x":-1.6,"y":8.8},{"v":2,"d":2,"g":"p","x":-1.65,"y":7.4},{"v":2,"d":2,"g":"p","x":-1.77,"y":4.4},{"v":2,"d":2,"g":"p","x":-1.5,"y":5.3},{"v":2,"d":2,"g":"p","x":-1.86,"y":7.6},{"v":2,"d":2,"g":"p","x":-1.8,"y":8.2},

{"v":2,"d":3,"g":"n","x":-2.09,"y":9.3},{"v":2,"d":3,"g":"n","x":-1.96,"y":8.8},{"v":2,"d":3,"g":"n","x":-1.76,"y":9.5},{"v":2,"d":3,"g":"n","x":-1.7,"y":9.3},{"v":2,"d":3,"g":"n","x":-2.03,"y":7.6},{"v":2,"d":3,"g":"n","x":-1.99,"y":6.9},{"v":2,"d":3,"g":"n","x":-1.86,"y":7.1},{"v":2,"d":3,"g":"n","x":-1.7,"y":6.65},{"v":2,"d":3,"g":"n","x":-1.57,"y":6.65},{"v":2,"d":3,"g":"n","x":-1.4,"y":7.4},{"v":2,"d":3,"g":"n","x":-1.47,"y":7.0},{"v":2,"d":3,"g":"n","x":-1.65,"y":7.6},{"v":2,"d":3,"g":"n","x":-0.58,"y":7.7},{"v":2,"d":3,"g":"n","x":1.43,"y":5.0},{"v":2,"d":3,"g":"n","x":-2.09,"y":7.9},{"v":2,"d":3,"g":"n","x":-1.8,"y":8.1},{"v":2,"d":3,"g":"n","x":-1.9,"y":7.4},{"v":2,"d":3,"g":"n","x":-1.55,"y":8.4},{"v":2,"d":3,"g":"n","x":-1.5,"y":7.8},
{"v":2,"d":3,"g":"p","x":-1.96,"y":9.0},{"v":2,"d":3,"g":"p","x":-1.76,"y":6.8},{"v":2,"d":3,"g":"p","x":-1.6,"y":8.8},{"v":2,"d":3,"g":"p","x":-1.47,"y":9.5},{"v":2,"d":3,"g":"p","x":-1.43,"y":7.4},{"v":2,"d":3,"g":"p","x":-1.7,"y":8.1},

{"v":3,"d":1,"g":"n","x":-1.35,"y":1.4},{"v":3,"d":1,"g":"n","x":-1.28,"y":1.3},{"v":3,"d":1,"g":"n","x":-1.21,"y":1.45},{"v":3,"d":1,"g":"n","x":-1.14,"y":1.3},{"v":3,"d":1,"g":"n","x":-1.07,"y":1.4},{"v":3,"d":1,"g":"n","x":-1.0,"y":1.3},{"v":3,"d":1,"g":"n","x":-0.93,"y":1.45},{"v":3,"d":1,"g":"n","x":-0.86,"y":1.3},{"v":3,"d":1,"g":"n","x":-0.79,"y":1.4},{"v":3,"d":1,"g":"n","x":-0.72,"y":1.3},{"v":3,"d":1,"g":"n","x":-0.65,"y":1.45},{"v":3,"d":1,"g":"n","x":-0.58,"y":1.3},{"v":3,"d":1,"g":"n","x":-0.51,"y":1.4},{"v":3,"d":1,"g":"n","x":-0.44,"y":1.3},{"v":3,"d":1,"g":"n","x":-0.37,"y":1.45},{"v":3,"d":1,"g":"n","x":-0.3,"y":1.3},{"v":3,"d":1,"g":"n","x":-0.23,"y":1.4},{"v":3,"d":1,"g":"n","x":-0.16,"y":1.3},{"v":3,"d":1,"g":"n","x":-0.09,"y":1.45},{"v":3,"d":1,"g":"n","x":-0.02,"y":1.3},{"v":3,"d":1,"g":"n","x":0.05,"y":1.4},{"v":3,"d":1,"g":"n","x":0.12,"y":1.3},{"v":3,"d":1,"g":"n","x":0.19,"y":1.45},{"v":3,"d":1,"g":"n","x":0.26,"y":1.3},{"v":3,"d":1,"g":"n","x":0.33,"y":1.4},{"v":3,"d":1,"g":"n","x":0.4,"y":1.3},{"v":3,"d":1,"g":"n","x":0.47,"y":1.45},{"v":3,"d":1,"g":"n","x":0.54,"y":1.3},{"v":3,"d":1,"g":"n","x":0.61,"y":1.4},{"v":3,"d":1,"g":"n","x":0.68,"y":1.3},{"v":3,"d":1,"g":"n","x":0.75,"y":1.45},{"v":3,"d":1,"g":"n","x":0.82,"y":1.3},{"v":3,"d":1,"g":"n","x":0.89,"y":1.4},{"v":3,"d":1,"g":"n","x":0.96,"y":1.3},{"v":3,"d":1,"g":"n","x":1.03,"y":1.45},{"v":3,"d":1,"g":"n","x":1.1,"y":1.3},{"v":3,"d":1,"g":"n","x":1.17,"y":1.4},{"v":3,"d":1,"g":"n","x":1.24,"y":1.3},{"v":3,"d":1,"g":"n","x":1.31,"y":1.45},{"v":3,"d":1,"g":"n","x":1.38,"y":1.3},{"v":3,"d":1,"g":"n","x":1.45,"y":1.4},{"v":3,"d":1,"g":"n","x":1.52,"y":1.3},{"v":3,"d":1,"g":"n","x":1.58,"y":1.4},{"v":3,"d":1,"g":"n","x":1.9,"y":1.3},
{"v":3,"d":1,"g":"n","x":-1.09,"y":5.9},{"v":3,"d":1,"g":"n","x":-0.69,"y":5.7},{"v":3,"d":1,"g":"n","x":-1.3,"y":4.1},{"v":3,"d":1,"g":"n","x":-1.07,"y":4.55},{"v":3,"d":1,"g":"n","x":-1.02,"y":4.2},{"v":3,"d":1,"g":"n","x":-0.5,"y":2.9},{"v":3,"d":1,"g":"n","x":0.5,"y":6.2},{"v":3,"d":1,"g":"n","x":0.74,"y":4.9},{"v":3,"d":1,"g":"n","x":0.78,"y":5.4},{"v":3,"d":1,"g":"n","x":0.55,"y":3.8},{"v":3,"d":1,"g":"n","x":0.46,"y":3.1},{"v":3,"d":1,"g":"n","x":1.08,"y":3.3},{"v":3,"d":1,"g":"n","x":1.2,"y":3.3},{"v":3,"d":1,"g":"n","x":1.5,"y":4.0},{"v":3,"d":1,"g":"n","x":1.95,"y":6.1},{"v":3,"d":1,"g":"n","x":0.9,"y":5.9},{"v":3,"d":1,"g":"n","x":1.45,"y":5.2},{"v":3,"d":1,"g":"n","x":1.05,"y":3.1},{"v":3,"d":1,"g":"n","x":0.6,"y":2.9},{"v":3,"d":1,"g":"n","x":0.45,"y":4.8},{"v":3,"d":1,"g":"n","x":-1.1,"y":3.95},{"v":3,"d":1,"g":"n","x":-1.0,"y":2.7},{"v":3,"d":1,"g":"n","x":-0.8,"y":2.2},{"v":3,"d":1,"g":"n","x":0.2,"y":2.4},{"v":3,"d":1,"g":"n","x":1.3,"y":2.6},
{"v":3,"d":1,"g":"p","x":-1.54,"y":4.55},{"v":3,"d":1,"g":"p","x":-1.21,"y":5.4},{"v":3,"d":1,"g":"p","x":-1.1,"y":3.9},{"v":3,"d":1,"g":"p","x":-0.83,"y":4.3},{"v":3,"d":1,"g":"p","x":-0.73,"y":4.7},{"v":3,"d":1,"g":"p","x":-0.21,"y":5.2},{"v":3,"d":1,"g":"p","x":-0.23,"y":4.5},{"v":3,"d":1,"g":"p","x":-0.07,"y":4.4},{"v":3,"d":1,"g":"p","x":0.36,"y":5.0},{"v":3,"d":1,"g":"p","x":0.65,"y":5.55},{"v":3,"d":1,"g":"p","x":0.84,"y":4.7},{"v":3,"d":1,"g":"p","x":0.98,"y":6.55},{"v":3,"d":1,"g":"p","x":1.08,"y":4.9},{"v":3,"d":1,"g":"p","x":1.12,"y":3.8},{"v":3,"d":1,"g":"p","x":1.36,"y":6.0},{"v":3,"d":1,"g":"p","x":1.42,"y":5.7},{"v":3,"d":1,"g":"p","x":1.6,"y":6.7},{"v":3,"d":1,"g":"p","x":-1.88,"y":2.65},{"v":3,"d":1,"g":"p","x":-0.92,"y":2.9},{"v":3,"d":1,"g":"p","x":-0.78,"y":1.55},{"v":3,"d":1,"g":"p","x":0.0,"y":1.45},{"v":3,"d":1,"g":"p","x":0.84,"y":2.0},{"v":3,"d":1,"g":"p","x":1.6,"y":1.45},{"v":3,"d":1,"g":"p","x":-1.35,"y":1.6},{"v":3,"d":1,"g":"p","x":1.2,"y":5.8},

{"v":3,"d":2,"g":"n","x":-1.36,"y":6.35},{"v":3,"d":2,"g":"n","x":-1.25,"y":6.35},{"v":3,"d":2,"g":"n","x":-1.1,"y":6.3},{"v":3,"d":2,"g":"n","x":-0.95,"y":6.2},{"v":3,"d":2,"g":"n","x":-0.75,"y":6.0},{"v":3,"d":2,"g":"n","x":-0.5,"y":6.1},{"v":3,"d":2,"g":"n","x":0.88,"y":9.45},{"v":3,"d":2,"g":"n","x":1.26,"y":9.0},{"v":3,"d":2,"g":"n","x":1.97,"y":9.0},{"v":3,"d":2,"g":"n","x":0.97,"y":8.35},{"v":3,"d":2,"g":"n","x":1.68,"y":4.8},{"v":3,"d":2,"g":"n","x":1.87,"y":2.9},{"v":3,"d":2,"g":"n","x":-1.27,"y":1.7},{"v":3,"d":2,"g":"n","x":-0.85,"y":1.5},{"v":3,"d":2,"g":"n","x":-0.1,"y":1.5},{"v":3,"d":2,"g":"n","x":0.4,"y":1.7},
{"v":3,"d":2,"g":"n","x":-1.3,"y":4.5},{"v":3,"d":2,"g":"n","x":-1.2,"y":3.6},{"v":3,"d":2,"g":"n","x":-1.15,"y":4.9},{"v":3,"d":2,"g":"n","x":-1.05,"y":3.2},{"v":3,"d":2,"g":"n","x":-1.0,"y":4.3},{"v":3,"d":2,"g":"n","x":-0.95,"y":2.6},{"v":3,"d":2,"g":"n","x":-0.85,"y":3.9},{"v":3,"d":2,"g":"n","x":-0.8,"y":5.0},{"v":3,"d":2,"g":"n","x":-0.7,"y":3.4},{"v":3,"d":2,"g":"n","x":-0.65,"y":4.4},{"v":3,"d":2,"g":"n","x":-0.55,"y":2.9},{"v":3,"d":2,"g":"n","x":-0.5,"y":3.8},{"v":3,"d":2,"g":"n","x":-0.45,"y":4.7},{"v":3,"d":2,"g":"n","x":-0.35,"y":3.3},{"v":3,"d":2,"g":"n","x":-0.3,"y":2.4},{"v":3,"d":2,"g":"n","x":-0.25,"y":4.1},{"v":3,"d":2,"g":"n","x":-0.15,"y":3.6},{"v":3,"d":2,"g":"n","x":-0.1,"y":4.6},{"v":3,"d":2,"g":"n","x":0.0,"y":3.0},{"v":3,"d":2,"g":"n","x":0.05,"y":3.9},{"v":3,"d":2,"g":"n","x":0.15,"y":2.2},{"v":3,"d":2,"g":"n","x":0.2,"y":4.3},{"v":3,"d":2,"g":"n","x":0.3,"y":3.5},{"v":3,"d":2,"g":"n","x":0.35,"y":2.6},{"v":3,"d":2,"g":"n","x":-1.25,"y":2.3},{"v":3,"d":2,"g":"n","x":-0.6,"y":1.8},{"v":3,"d":2,"g":"n","x":0.25,"y":1.5},
{"v":3,"d":2,"g":"n","x":0.5,"y":4.0},{"v":3,"d":2,"g":"n","x":0.55,"y":2.5},{"v":3,"d":2,"g":"n","x":0.6,"y":3.3},{"v":3,"d":2,"g":"n","x":0.65,"y":4.6},{"v":3,"d":2,"g":"n","x":0.7,"y":1.6},{"v":3,"d":2,"g":"n","x":0.72,"y":2.9},{"v":3,"d":2,"g":"n","x":0.78,"y":3.9},{"v":3,"d":2,"g":"n","x":0.8,"y":5.0},{"v":3,"d":2,"g":"n","x":0.85,"y":2.2},{"v":3,"d":2,"g":"n","x":0.88,"y":3.5},{"v":3,"d":2,"g":"n","x":0.92,"y":4.4},{"v":3,"d":2,"g":"n","x":0.95,"y":1.5},{"v":3,"d":2,"g":"n","x":0.98,"y":2.8},{"v":3,"d":2,"g":"n","x":1.0,"y":3.8},{"v":3,"d":2,"g":"n","x":1.03,"y":5.2},{"v":3,"d":2,"g":"n","x":1.06,"y":2.1},{"v":3,"d":2,"g":"n","x":1.08,"y":4.2},{"v":3,"d":2,"g":"n","x":1.1,"y":3.1},{"v":3,"d":2,"g":"n","x":1.13,"y":1.6},{"v":3,"d":2,"g":"n","x":1.15,"y":4.8},{"v":3,"d":2,"g":"n","x":1.18,"y":2.5},{"v":3,"d":2,"g":"n","x":1.2,"y":3.6},{"v":3,"d":2,"g":"n","x":1.23,"y":1.9},{"v":3,"d":2,"g":"n","x":1.25,"y":4.5},{"v":3,"d":2,"g":"n","x":1.28,"y":2.9},{"v":3,"d":2,"g":"n","x":1.3,"y":3.9},{"v":3,"d":2,"g":"n","x":1.33,"y":1.5},{"v":3,"d":2,"g":"n","x":1.35,"y":4.9},{"v":3,"d":2,"g":"n","x":1.38,"y":2.3},{"v":3,"d":2,"g":"n","x":1.4,"y":3.3},{"v":3,"d":2,"g":"n","x":1.43,"y":4.4},{"v":3,"d":2,"g":"n","x":1.46,"y":1.7},{"v":3,"d":2,"g":"n","x":1.48,"y":2.7},{"v":3,"d":2,"g":"n","x":1.5,"y":3.7},{"v":3,"d":2,"g":"n","x":1.53,"y":1.5},{"v":3,"d":2,"g":"n","x":1.55,"y":2.2},{"v":3,"d":2,"g":"n","x":1.58,"y":4.1},{"v":3,"d":2,"g":"n","x":1.6,"y":3.0},{"v":3,"d":2,"g":"n","x":0.62,"y":5.6},{"v":3,"d":2,"g":"n","x":0.9,"y":5.8},{"v":3,"d":2,"g":"n","x":1.2,"y":5.9},{"v":3,"d":2,"g":"n","x":0.45,"y":6.2},{"v":3,"d":2,"g":"n","x":1.75,"y":3.8},{"v":3,"d":2,"g":"n","x":0.7,"y":7.6},
{"v":3,"d":2,"g":"n","x":0.6,"y":2.0},{"v":3,"d":2,"g":"n","x":0.68,"y":3.7},{"v":3,"d":2,"g":"n","x":0.75,"y":2.3},{"v":3,"d":2,"g":"n","x":0.82,"y":4.5},{"v":3,"d":2,"g":"n","x":0.9,"y":1.9},{"v":3,"d":2,"g":"n","x":0.95,"y":3.2},{"v":3,"d":2,"g":"n","x":1.02,"y":4.6},{"v":3,"d":2,"g":"n","x":1.05,"y":1.5},{"v":3,"d":2,"g":"n","x":1.12,"y":3.4},{"v":3,"d":2,"g":"n","x":1.17,"y":2.0},{"v":3,"d":2,"g":"n","x":1.22,"y":4.1},{"v":3,"d":2,"g":"n","x":1.27,"y":3.3},{"v":3,"d":2,"g":"n","x":1.32,"y":2.3},{"v":3,"d":2,"g":"n","x":1.37,"y":4.2},{"v":3,"d":2,"g":"n","x":1.42,"y":1.9},{"v":3,"d":2,"g":"n","x":1.45,"y":3.0},{"v":3,"d":2,"g":"n","x":1.52,"y":4.4},{"v":3,"d":2,"g":"n","x":1.56,"y":3.4},{"v":3,"d":2,"g":"n","x":1.6,"y":1.5},{"v":3,"d":2,"g":"n","x":1.62,"y":2.5},{"v":3,"d":2,"g":"n","x":0.55,"y":1.5},{"v":3,"d":2,"g":"n","x":0.85,"y":1.5},{"v":3,"d":2,"g":"n","x":1.25,"y":1.5},{"v":3,"d":2,"g":"n","x":0.7,"y":4.2},{"v":3,"d":2,"g":"n","x":1.0,"y":2.4},
{"v":3,"d":2,"g":"p","x":-1.9,"y":6.15},{"v":3,"d":2,"g":"p","x":-1.55,"y":6.15},{"v":3,"d":2,"g":"p","x":-1.12,"y":6.15},{"v":3,"d":2,"g":"p","x":-0.93,"y":6.15},{"v":3,"d":2,"g":"p","x":-0.8,"y":6.0},{"v":3,"d":2,"g":"p","x":-0.6,"y":6.2},{"v":3,"d":2,"g":"p","x":-0.24,"y":6.15},{"v":3,"d":2,"g":"p","x":-0.08,"y":6.4},{"v":3,"d":2,"g":"p","x":0.45,"y":8.55},{"v":3,"d":2,"g":"p","x":0.59,"y":8.55},{"v":3,"d":2,"g":"p","x":0.83,"y":9.0},{"v":3,"d":2,"g":"p","x":1.04,"y":9.05},{"v":3,"d":2,"g":"p","x":1.1,"y":8.8},{"v":3,"d":2,"g":"p","x":1.3,"y":9.0},{"v":3,"d":2,"g":"p","x":1.45,"y":8.9},{"v":3,"d":2,"g":"p","x":1.54,"y":8.0},{"v":3,"d":2,"g":"p","x":1.21,"y":7.65},{"v":3,"d":2,"g":"p","x":0.45,"y":7.2},{"v":3,"d":2,"g":"p","x":0.73,"y":6.0},{"v":3,"d":2,"g":"p","x":-0.74,"y":2.8},{"v":3,"d":2,"g":"p","x":0.07,"y":2.45},{"v":3,"d":2,"g":"p","x":-0.9,"y":5.4},{"v":3,"d":2,"g":"p","x":1.5,"y":8.6},

{"v":3,"d":3,"g":"n","x":-1.31,"y":8.65},{"v":3,"d":3,"g":"n","x":-0.89,"y":9.2},{"v":3,"d":3,"g":"n","x":-0.6,"y":8.2},{"v":3,"d":3,"g":"n","x":-0.22,"y":9.0},{"v":3,"d":3,"g":"n","x":0.26,"y":9.2},{"v":3,"d":3,"g":"n","x":0.54,"y":9.3},{"v":3,"d":3,"g":"n","x":0.87,"y":9.8},{"v":3,"d":3,"g":"n","x":0.97,"y":9.2},{"v":3,"d":3,"g":"n","x":1.97,"y":9.45},{"v":3,"d":3,"g":"n","x":1.69,"y":8.35},{"v":3,"d":3,"g":"n","x":-1.27,"y":4.9},{"v":3,"d":3,"g":"n","x":-0.84,"y":4.1},{"v":3,"d":3,"g":"n","x":-0.55,"y":4.3},{"v":3,"d":3,"g":"n","x":-0.03,"y":4.65},{"v":3,"d":3,"g":"n","x":0.64,"y":4.65},{"v":3,"d":3,"g":"n","x":1.02,"y":2.9},{"v":3,"d":3,"g":"n","x":1.5,"y":3.3},{"v":3,"d":3,"g":"n","x":1.07,"y":4.0},{"v":3,"d":3,"g":"n","x":1.2,"y":3.8},
{"v":3,"d":3,"g":"n","x":-1.4,"y":7.2},{"v":3,"d":3,"g":"n","x":-1.35,"y":5.9},{"v":3,"d":3,"g":"n","x":-1.2,"y":7.8},{"v":3,"d":3,"g":"n","x":-1.15,"y":6.4},{"v":3,"d":3,"g":"n","x":-1.05,"y":5.4},{"v":3,"d":3,"g":"n","x":-1.0,"y":7.0},{"v":3,"d":3,"g":"n","x":-0.95,"y":8.0},{"v":3,"d":3,"g":"n","x":-0.85,"y":6.2},{"v":3,"d":3,"g":"n","x":-0.75,"y":7.4},{"v":3,"d":3,"g":"n","x":-0.7,"y":5.3},{"v":3,"d":3,"g":"n","x":-0.62,"y":6.7},{"v":3,"d":3,"g":"n","x":-0.5,"y":5.8},{"v":3,"d":3,"g":"n","x":-0.45,"y":7.6},{"v":3,"d":3,"g":"n","x":-0.38,"y":6.3},{"v":3,"d":3,"g":"n","x":-0.3,"y":5.2},{"v":3,"d":3,"g":"n","x":-0.2,"y":7.1},{"v":3,"d":3,"g":"n","x":-0.15,"y":6.0},{"v":3,"d":3,"g":"n","x":-0.08,"y":8.1},{"v":3,"d":3,"g":"n","x":0.0,"y":5.6},{"v":3,"d":3,"g":"n","x":0.08,"y":7.0},{"v":3,"d":3,"g":"n","x":0.15,"y":6.3},{"v":3,"d":3,"g":"n","x":0.2,"y":8.3},{"v":3,"d":3,"g":"n","x":0.3,"y":5.5},{"v":3,"d":3,"g":"n","x":0.35,"y":7.4},{"v":3,"d":3,"g":"n","x":0.45,"y":6.1},{"v":3,"d":3,"g":"n","x":0.5,"y":8.0},{"v":3,"d":3,"g":"n","x":0.6,"y":5.4},{"v":3,"d":3,"g":"n","x":0.65,"y":6.9},{"v":3,"d":3,"g":"n","x":0.72,"y":8.6},{"v":3,"d":3,"g":"n","x":0.78,"y":5.9},{"v":3,"d":3,"g":"n","x":0.82,"y":7.6},{"v":3,"d":3,"g":"n","x":0.88,"y":4.8},{"v":3,"d":3,"g":"n","x":0.92,"y":6.5},{"v":3,"d":3,"g":"n","x":0.95,"y":8.8},{"v":3,"d":3,"g":"n","x":1.0,"y":5.6},{"v":3,"d":3,"g":"n","x":1.03,"y":7.2},{"v":3,"d":3,"g":"n","x":1.08,"y":6.2},{"v":3,"d":3,"g":"n","x":1.12,"y":8.0},{"v":3,"d":3,"g":"n","x":1.15,"y":5.0},{"v":3,"d":3,"g":"n","x":1.18,"y":7.5},{"v":3,"d":3,"g":"n","x":1.22,"y":6.6},{"v":3,"d":3,"g":"n","x":1.26,"y":4.6},{"v":3,"d":3,"g":"n","x":1.3,"y":5.8},{"v":3,"d":3,"g":"n","x":1.33,"y":7.9},{"v":3,"d":3,"g":"n","x":1.36,"y":6.9},{"v":3,"d":3,"g":"n","x":1.4,"y":4.3},{"v":3,"d":3,"g":"n","x":1.45,"y":6.2},{"v":3,"d":3,"g":"n","x":1.5,"y":7.4},{"v":3,"d":3,"g":"n","x":1.55,"y":5.5},{"v":3,"d":3,"g":"n","x":1.6,"y":6.6},{"v":3,"d":3,"g":"n","x":1.65,"y":7.8},{"v":3,"d":3,"g":"n","x":1.7,"y":5.2},{"v":3,"d":3,"g":"n","x":1.8,"y":6.7},{"v":3,"d":3,"g":"n","x":1.95,"y":6.5},{"v":3,"d":3,"g":"n","x":1.1,"y":3.5},{"v":3,"d":3,"g":"n","x":1.3,"y":4.0},{"v":3,"d":3,"g":"n","x":0.95,"y":3.3},
{"v":3,"d":3,"g":"p","x":-1.92,"y":6.1},{"v":3,"d":3,"g":"p","x":-1.55,"y":8.55},{"v":3,"d":3,"g":"p","x":-1.12,"y":6.0},{"v":3,"d":3,"g":"p","x":-0.93,"y":5.0},{"v":3,"d":3,"g":"p","x":-0.79,"y":5.55},{"v":3,"d":3,"g":"p","x":-0.69,"y":8.65},{"v":3,"d":3,"g":"p","x":-0.27,"y":8.0},{"v":3,"d":3,"g":"p","x":-0.03,"y":6.35},{"v":3,"d":3,"g":"p","x":0.37,"y":8.65},{"v":3,"d":3,"g":"p","x":0.69,"y":7.45},{"v":3,"d":3,"g":"p","x":1.07,"y":9.55},{"v":3,"d":3,"g":"p","x":1.35,"y":9.0},{"v":3,"d":3,"g":"p","x":1.54,"y":9.1},{"v":3,"d":3,"g":"p","x":1.6,"y":8.7},{"v":3,"d":3,"g":"p","x":-1.3,"y":6.6},{"v":3,"d":3,"g":"p","x":0.1,"y":7.2},{"v":3,"d":3,"g":"p","x":0.9,"y":8.2},{"v":3,"d":3,"g":"p","x":-0.5,"y":7.3},

{"v":4,"d":1,"g":"n","x":-2.0,"y":1.3},{"v":4,"d":1,"g":"n","x":-1.93,"y":1.4},{"v":4,"d":1,"g":"n","x":-1.86,"y":1.3},{"v":4,"d":1,"g":"n","x":-1.8,"y":1.45},{"v":4,"d":1,"g":"n","x":-1.73,"y":1.3},{"v":4,"d":1,"g":"n","x":-1.67,"y":1.4},{"v":4,"d":1,"g":"n","x":-1.6,"y":1.3},{"v":4,"d":1,"g":"n","x":-1.54,"y":1.45},{"v":4,"d":1,"g":"n","x":-1.47,"y":1.3},{"v":4,"d":1,"g":"n","x":-1.41,"y":1.4},{"v":4,"d":1,"g":"n","x":-1.34,"y":1.3},{"v":4,"d":1,"g":"n","x":-1.28,"y":1.45},{"v":4,"d":1,"g":"n","x":-1.21,"y":1.3},{"v":4,"d":1,"g":"n","x":-1.15,"y":1.4},{"v":4,"d":1,"g":"n","x":-1.08,"y":1.3},{"v":4,"d":1,"g":"n","x":-1.02,"y":1.45},{"v":4,"d":1,"g":"n","x":-0.95,"y":1.3},{"v":4,"d":1,"g":"n","x":-0.89,"y":1.4},{"v":4,"d":1,"g":"n","x":-0.82,"y":1.3},{"v":4,"d":1,"g":"n","x":-0.76,"y":1.45},{"v":4,"d":1,"g":"n","x":-0.69,"y":1.3},{"v":4,"d":1,"g":"n","x":-0.63,"y":1.4},{"v":4,"d":1,"g":"n","x":-0.56,"y":1.3},{"v":4,"d":1,"g":"n","x":-0.5,"y":1.45},{"v":4,"d":1,"g":"n","x":-0.43,"y":1.3},{"v":4,"d":1,"g":"n","x":-0.37,"y":1.4},{"v":4,"d":1,"g":"n","x":-0.3,"y":1.3},{"v":4,"d":1,"g":"n","x":-0.24,"y":1.45},{"v":4,"d":1,"g":"n","x":-0.17,"y":1.3},{"v":4,"d":1,"g":"n","x":-0.11,"y":1.4},{"v":4,"d":1,"g":"n","x":-0.04,"y":1.3},{"v":4,"d":1,"g":"n","x":0.02,"y":1.45},{"v":4,"d":1,"g":"n","x":0.09,"y":1.3},{"v":4,"d":1,"g":"n","x":0.15,"y":1.4},{"v":4,"d":1,"g":"n","x":0.22,"y":1.3},{"v":4,"d":1,"g":"n","x":0.28,"y":1.45},{"v":4,"d":1,"g":"n","x":0.35,"y":1.3},{"v":4,"d":1,"g":"n","x":1.08,"y":1.3},{"v":4,"d":1,"g":"n","x":1.31,"y":1.3},
{"v":4,"d":1,"g":"n","x":-0.69,"y":8.1},{"v":4,"d":1,"g":"n","x":-0.07,"y":7.2},{"v":4,"d":1,"g":"n","x":-1.97,"y":5.8},{"v":4,"d":1,"g":"n","x":-1.92,"y":3.8},{"v":4,"d":1,"g":"n","x":0.55,"y":5.2},{"v":4,"d":1,"g":"n","x":1.22,"y":4.65},{"v":4,"d":1,"g":"n","x":1.22,"y":4.2},{"v":4,"d":1,"g":"n","x":0.31,"y":6.0},{"v":4,"d":1,"g":"n","x":-0.75,"y":5.2},{"v":4,"d":1,"g":"n","x":-0.55,"y":4.9},{"v":4,"d":1,"g":"n","x":0.08,"y":4.4},{"v":4,"d":1,"g":"n","x":0.25,"y":3.5},{"v":4,"d":1,"g":"n","x":-0.97,"y":2.9},{"v":4,"d":1,"g":"n","x":-0.83,"y":2.5},{"v":4,"d":1,"g":"n","x":-1.4,"y":2.2},{"v":4,"d":1,"g":"n","x":-1.2,"y":4.2},{"v":4,"d":1,"g":"n","x":-0.4,"y":4.0},{"v":4,"d":1,"g":"n","x":-0.15,"y":5.6},{"v":4,"d":1,"g":"n","x":0.2,"y":6.4},{"v":4,"d":1,"g":"n","x":-0.3,"y":2.5},{"v":4,"d":1,"g":"n","x":0.0,"y":5.2},{"v":4,"d":1,"g":"n","x":-1.6,"y":2.2},{"v":4,"d":1,"g":"n","x":-1.0,"y":3.4},{"v":4,"d":1,"g":"n","x":0.35,"y":4.8},
{"v":4,"d":1,"g":"p","x":-1.92,"y":3.65},{"v":4,"d":1,"g":"p","x":-1.69,"y":4.55},{"v":4,"d":1,"g":"p","x":-1.26,"y":5.45},{"v":4,"d":1,"g":"p","x":-1.07,"y":4.9},{"v":4,"d":1,"g":"p","x":-0.83,"y":6.2},{"v":4,"d":1,"g":"p","x":-0.59,"y":5.3},{"v":4,"d":1,"g":"p","x":-0.5,"y":6.45},{"v":4,"d":1,"g":"p","x":-0.3,"y":6.2},{"v":4,"d":1,"g":"p","x":-0.21,"y":6.65},{"v":4,"d":1,"g":"p","x":-0.07,"y":6.0},{"v":4,"d":1,"g":"p","x":0.03,"y":5.55},{"v":4,"d":1,"g":"p","x":0.31,"y":6.65},{"v":4,"d":1,"g":"p","x":0.17,"y":5.0},{"v":4,"d":1,"g":"p","x":0.08,"y":2.9},{"v":4,"d":1,"g":"p","x":-0.35,"y":1.35},{"v":4,"d":1,"g":"p","x":-1.16,"y":1.35},{"v":4,"d":1,"g":"p","x":-1.35,"y":4.1},{"v":4,"d":1,"g":"p","x":-1.54,"y":3.8},{"v":4,"d":1,"g":"p","x":-0.97,"y":3.8},{"v":4,"d":1,"g":"p","x":-0.78,"y":3.35},{"v":4,"d":1,"g":"p","x":-0.55,"y":3.4},{"v":4,"d":1,"g":"p","x":-0.45,"y":4.65},{"v":4,"d":1,"g":"p","x":-0.25,"y":4.3},{"v":4,"d":1,"g":"p","x":-0.16,"y":5.3},{"v":4,"d":1,"g":"p","x":-0.02,"y":3.65},{"v":4,"d":1,"g":"p","x":-2.02,"y":1.8},{"v":4,"d":1,"g":"p","x":-0.7,"y":4.2},{"v":4,"d":1,"g":"p","x":-1.8,"y":3.0},{"v":4,"d":1,"g":"p","x":-1.6,"y":2.5},{"v":4,"d":1,"g":"p","x":-1.4,"y":3.2},{"v":4,"d":1,"g":"p","x":-1.2,"y":2.6},{"v":4,"d":1,"g":"p","x":-0.9,"y":4.6},{"v":4,"d":1,"g":"p","x":-0.65,"y":5.8},{"v":4,"d":1,"g":"p","x":-0.4,"y":5.6},{"v":4,"d":1,"g":"p","x":-0.1,"y":4.8},{"v":4,"d":1,"g":"p","x":0.1,"y":4.2},{"v":4,"d":1,"g":"p","x":0.25,"y":5.6},{"v":4,"d":1,"g":"p","x":0.3,"y":3.6},{"v":4,"d":1,"g":"p","x":-0.85,"y":2.4},{"v":4,"d":1,"g":"p","x":-0.05,"y":2.2},{"v":4,"d":1,"g":"p","x":0.2,"y":1.9},{"v":4,"d":1,"g":"p","x":-1.0,"y":5.5},{"v":4,"d":1,"g":"p","x":-0.6,"y":2.7},{"v":4,"d":1,"g":"p","x":-1.95,"y":2.8},{"v":4,"d":1,"g":"p","x":-1.75,"y":3.5},{"v":4,"d":1,"g":"p","x":-0.2,"y":3.0},{"v":4,"d":1,"g":"p","x":0.15,"y":3.2},

{"v":4,"d":2,"g":"n","x":-2.03,"y":7.1},{"v":4,"d":2,"g":"n","x":-1.7,"y":6.0},{"v":4,"d":2,"g":"n","x":-1.17,"y":8.35},{"v":4,"d":2,"g":"n","x":-0.7,"y":8.1},{"v":4,"d":2,"g":"n","x":0.07,"y":7.55},{"v":4,"d":2,"g":"n","x":0.54,"y":6.45},{"v":4,"d":2,"g":"n","x":0.64,"y":5.45},{"v":4,"d":2,"g":"n","x":-0.35,"y":7.6},{"v":4,"d":2,"g":"n","x":-1.79,"y":2.65},{"v":4,"d":2,"g":"n","x":-1.74,"y":1.55},{"v":4,"d":2,"g":"n","x":-1.36,"y":2.9},{"v":4,"d":2,"g":"n","x":1.35,"y":4.1},{"v":4,"d":2,"g":"n","x":0.4,"y":3.55},{"v":4,"d":2,"g":"n","x":-2.0,"y":4.6},{"v":4,"d":2,"g":"n","x":-1.6,"y":4.2},
{"v":4,"d":2,"g":"n","x":-1.4,"y":1.35},{"v":4,"d":2,"g":"n","x":-1.33,"y":1.3},{"v":4,"d":2,"g":"n","x":-1.26,"y":1.4},{"v":4,"d":2,"g":"n","x":-1.19,"y":1.3},{"v":4,"d":2,"g":"n","x":-1.12,"y":1.35},{"v":4,"d":2,"g":"n","x":-1.05,"y":1.3},{"v":4,"d":2,"g":"n","x":-0.98,"y":1.4},{"v":4,"d":2,"g":"n","x":-0.91,"y":1.3},{"v":4,"d":2,"g":"n","x":-0.84,"y":1.35},{"v":4,"d":2,"g":"n","x":-0.77,"y":1.3},{"v":4,"d":2,"g":"n","x":-0.7,"y":1.4},{"v":4,"d":2,"g":"n","x":-0.63,"y":1.3},{"v":4,"d":2,"g":"n","x":-0.56,"y":1.35},{"v":4,"d":2,"g":"n","x":-0.49,"y":1.3},{"v":4,"d":2,"g":"n","x":-0.42,"y":1.4},{"v":4,"d":2,"g":"n","x":-0.35,"y":1.3},{"v":4,"d":2,"g":"n","x":-0.28,"y":1.35},{"v":4,"d":2,"g":"n","x":-0.21,"y":1.3},{"v":4,"d":2,"g":"n","x":-0.14,"y":1.4},{"v":4,"d":2,"g":"n","x":-0.07,"y":1.3},{"v":4,"d":2,"g":"n","x":0.0,"y":1.35},{"v":4,"d":2,"g":"n","x":0.07,"y":1.3},{"v":4,"d":2,"g":"n","x":0.14,"y":1.4},{"v":4,"d":2,"g":"n","x":0.21,"y":1.3},{"v":4,"d":2,"g":"n","x":0.28,"y":1.35},{"v":4,"d":2,"g":"n","x":0.35,"y":1.3},
{"v":4,"d":2,"g":"n","x":-1.3,"y":2.4},{"v":4,"d":2,"g":"n","x":-1.2,"y":3.3},{"v":4,"d":2,"g":"n","x":-1.1,"y":2.1},{"v":4,"d":2,"g":"n","x":-1.0,"y":3.8},{"v":4,"d":2,"g":"n","x":-0.95,"y":2.7},{"v":4,"d":2,"g":"n","x":-0.85,"y":3.2},{"v":4,"d":2,"g":"n","x":-0.8,"y":2.2},{"v":4,"d":2,"g":"n","x":-0.7,"y":3.6},{"v":4,"d":2,"g":"n","x":-0.65,"y":2.6},{"v":4,"d":2,"g":"n","x":-0.55,"y":2.0},{"v":4,"d":2,"g":"n","x":-0.5,"y":3.1},{"v":4,"d":2,"g":"n","x":-0.45,"y":3.9},{"v":4,"d":2,"g":"n","x":-0.4,"y":2.5},{"v":4,"d":2,"g":"n","x":-0.3,"y":3.4},{"v":4,"d":2,"g":"n","x":-0.25,"y":2.1},{"v":4,"d":2,"g":"n","x":-0.15,"y":3.0},{"v":4,"d":2,"g":"n","x":-0.1,"y":4.0},{"v":4,"d":2,"g":"n","x":-0.05,"y":2.4},{"v":4,"d":2,"g":"n","x":0.05,"y":3.6},{"v":4,"d":2,"g":"n","x":0.1,"y":2.0},{"v":4,"d":2,"g":"n","x":0.15,"y":2.9},{"v":4,"d":2,"g":"n","x":0.25,"y":3.3},{"v":4,"d":2,"g":"n","x":0.3,"y":2.3},{"v":4,"d":2,"g":"n","x":0.35,"y":4.3},{"v":4,"d":2,"g":"n","x":-0.6,"y":4.6},{"v":4,"d":2,"g":"n","x":-0.2,"y":5.0},{"v":4,"d":2,"g":"n","x":-1.05,"y":5.0},{"v":4,"d":2,"g":"n","x":0.2,"y":5.5},
{"v":4,"d":2,"g":"n","x":-0.9,"y":1.9},{"v":4,"d":2,"g":"n","x":-0.85,"y":2.6},{"v":4,"d":2,"g":"n","x":-0.75,"y":3.0},{"v":4,"d":2,"g":"n","x":-0.6,"y":2.4},{"v":4,"d":2,"g":"n","x":-0.5,"y":1.8},{"v":4,"d":2,"g":"n","x":-0.42,"y":3.4},{"v":4,"d":2,"g":"n","x":-0.35,"y":2.8},{"v":4,"d":2,"g":"n","x":-0.28,"y":1.9},{"v":4,"d":2,"g":"n","x":-0.2,"y":2.6},{"v":4,"d":2,"g":"n","x":-0.12,"y":3.5},{"v":4,"d":2,"g":"n","x":-0.05,"y":1.9},{"v":4,"d":2,"g":"n","x":0.0,"y":2.8},{"v":4,"d":2,"g":"n","x":0.1,"y":3.3},{"v":4,"d":2,"g":"n","x":0.18,"y":2.4},{"v":4,"d":2,"g":"n","x":0.25,"y":1.8},{"v":4,"d":2,"g":"n","x":0.32,"y":3.0},{"v":4,"d":2,"g":"n","x":-0.7,"y":2.0},{"v":4,"d":2,"g":"n","x":-0.3,"y":4.3},{"v":4,"d":2,"g":"n","x":0.05,"y":4.5},{"v":4,"d":2,"g":"n","x":0.3,"y":3.7},{"v":4,"d":2,"g":"n","x":-0.95,"y":3.4},{"v":4,"d":2,"g":"n","x":-1.2,"y":2.0},{"v":4,"d":2,"g":"n","x":-1.0,"y":2.2},{"v":4,"d":2,"g":"n","x":-0.55,"y":3.6},
{"v":4,"d":2,"g":"p","x":-1.98,"y":2.65},{"v":4,"d":2,"g":"p","x":-1.98,"y":5.1},{"v":4,"d":2,"g":"p","x":-1.79,"y":8.35},{"v":4,"d":2,"g":"p","x":-1.6,"y":8.45},{"v":4,"d":2,"g":"p","x":-1.65,"y":7.35},{"v":4,"d":2,"g":"p","x":-1.46,"y":6.65},{"v":4,"d":2,"g":"p","x":-1.08,"y":8.2},{"v":4,"d":2,"g":"p","x":-0.89,"y":8.2},{"v":4,"d":2,"g":"p","x":-0.79,"y":7.2},{"v":4,"d":2,"g":"p","x":-0.6,"y":7.1},{"v":4,"d":2,"g":"p","x":-0.5,"y":7.45},{"v":4,"d":2,"g":"p","x":-0.36,"y":6.8},{"v":4,"d":2,"g":"p","x":-0.22,"y":6.35},{"v":4,"d":2,"g":"p","x":0.02,"y":8.1},{"v":4,"d":2,"g":"p","x":0.07,"y":7.55},{"v":4,"d":2,"g":"p","x":0.16,"y":6.9},{"v":4,"d":2,"g":"p","x":-0.08,"y":6.0},{"v":4,"d":2,"g":"p","x":-0.5,"y":5.2},{"v":4,"d":2,"g":"p","x":-1.22,"y":6.0},{"v":4,"d":2,"g":"p","x":-1.08,"y":4.8},{"v":4,"d":2,"g":"p","x":-0.93,"y":4.2},{"v":4,"d":2,"g":"p","x":-0.36,"y":1.8},{"v":4,"d":2,"g":"p","x":-1.17,"y":1.35},{"v":4,"d":2,"g":"p","x":0.3,"y":6.2},{"v":4,"d":2,"g":"p","x":-1.3,"y":7.3},{"v":4,"d":2,"g":"p","x":-0.7,"y":6.3},{"v":4,"d":2,"g":"p","x":-0.2,"y":7.6},{"v":4,"d":2,"g":"p","x":0.25,"y":7.8},{"v":4,"d":2,"g":"p","x":-0.95,"y":7.0},{"v":4,"d":2,"g":"p","x":-1.5,"y":5.6},{"v":4,"d":2,"g":"p","x":-0.4,"y":4.5},{"v":4,"d":2,"g":"p","x":0.1,"y":5.1},{"v":4,"d":2,"g":"p","x":-0.65,"y":3.4},{"v":4,"d":2,"g":"p","x":0.2,"y":4.0},{"v":4,"d":2,"g":"p","x":-1.8,"y":6.0},{"v":4,"d":2,"g":"p","x":-1.35,"y":4.3},{"v":4,"d":2,"g":"p","x":-0.05,"y":3.2},

{"v":4,"d":3,"g":"n","x":-1.98,"y":5.35},{"v":4,"d":3,"g":"n","x":-1.89,"y":6.9},{"v":4,"d":3,"g":"n","x":-1.6,"y":6.0},{"v":4,"d":3,"g":"n","x":-1.5,"y":4.35},{"v":4,"d":3,"g":"n","x":-1.07,"y":6.2},{"v":4,"d":3,"g":"n","x":-0.79,"y":8.2},{"v":4,"d":3,"g":"n","x":-0.65,"y":7.9},{"v":4,"d":3,"g":"n","x":-0.6,"y":2.0},{"v":4,"d":3,"g":"n","x":-0.55,"y":2.8},{"v":4,"d":3,"g":"n","x":-0.03,"y":7.9},{"v":4,"d":3,"g":"n","x":0.07,"y":7.35},{"v":4,"d":3,"g":"n","x":0.3,"y":6.35},{"v":4,"d":3,"g":"n","x":0.54,"y":6.65},{"v":4,"d":3,"g":"n","x":0.59,"y":6.1},{"v":4,"d":3,"g":"n","x":1.3,"y":5.8},{"v":4,"d":3,"g":"n","x":1.35,"y":4.9},{"v":4,"d":3,"g":"n","x":1.35,"y":3.55},{"v":4,"d":3,"g":"n","x":1.07,"y":3.8},{"v":4,"d":3,"g":"n","x":0.0,"y":1.65},{"v":4,"d":3,"g":"n","x":0.15,"y":1.65},{"v":4,"d":3,"g":"n","x":0.3,"y":1.9},{"v":4,"d":3,"g":"n","x":0.26,"y":2.9},{"v":4,"d":3,"g":"n","x":-0.45,"y":4.0},{"v":4,"d":3,"g":"n","x":-0.25,"y":4.6},{"v":4,"d":3,"g":"n","x":-0.85,"y":4.4},
{"v":4,"d":3,"g":"n","x":-1.95,"y":4.6},{"v":4,"d":3,"g":"n","x":-1.8,"y":5.8},{"v":4,"d":3,"g":"n","x":-1.7,"y":4.2},{"v":4,"d":3,"g":"n","x":-1.4,"y":5.5},{"v":4,"d":3,"g":"n","x":-1.3,"y":4.5},{"v":4,"d":3,"g":"n","x":-1.2,"y":5.3},{"v":4,"d":3,"g":"n","x":-1.0,"y":4.7},{"v":4,"d":3,"g":"n","x":-0.9,"y":3.8},{"v":4,"d":3,"g":"n","x":-0.7,"y":6.3},{"v":4,"d":3,"g":"n","x":-0.6,"y":4.9},{"v":4,"d":3,"g":"n","x":-0.5,"y":6.6},{"v":4,"d":3,"g":"n","x":-0.4,"y":3.5},{"v":4,"d":3,"g":"n","x":-0.35,"y":5.5},{"v":4,"d":3,"g":"n","x":-0.3,"y":4.2},{"v":4,"d":3,"g":"n","x":-0.2,"y":6.0},{"v":4,"d":3,"g":"n","x":-0.15,"y":3.4},{"v":4,"d":3,"g":"n","x":-0.1,"y":5.1},{"v":4,"d":3,"g":"n","x":0.0,"y":4.4},{"v":4,"d":3,"g":"n","x":0.05,"y":6.2},{"v":4,"d":3,"g":"n","x":0.1,"y":3.3},{"v":4,"d":3,"g":"n","x":0.15,"y":5.6},{"v":4,"d":3,"g":"n","x":0.2,"y":4.5},{"v":4,"d":3,"g":"n","x":0.25,"y":3.6},{"v":4,"d":3,"g":"n","x":0.3,"y":5.1},{"v":4,"d":3,"g":"n","x":0.35,"y":4.3},{"v":4,"d":3,"g":"n","x":0.4,"y":5.9},{"v":4,"d":3,"g":"n","x":0.5,"y":5.2},{"v":4,"d":3,"g":"n","x":-0.75,"y":7.2},{"v":4,"d":3,"g":"n","x":-0.6,"y":7.6},{"v":4,"d":3,"g":"n","x":0.2,"y":2.4},{"v":4,"d":3,"g":"n","x":-0.1,"y":2.6},{"v":4,"d":3,"g":"n","x":0.1,"y":1.9},
{"v":4,"d":3,"g":"n","x":-1.0,"y":3.9},{"v":4,"d":3,"g":"n","x":-0.8,"y":5.6},{"v":4,"d":3,"g":"n","x":-0.7,"y":4.2},{"v":4,"d":3,"g":"n","x":-0.5,"y":4.5},{"v":4,"d":3,"g":"n","x":-0.3,"y":5.0},{"v":4,"d":3,"g":"n","x":-0.2,"y":3.8},{"v":4,"d":3,"g":"n","x":0.0,"y":3.4},{"v":4,"d":3,"g":"n","x":0.15,"y":4.0},{"v":4,"d":3,"g":"n","x":0.25,"y":4.8},{"v":4,"d":3,"g":"n","x":-0.9,"y":4.9},{"v":4,"d":3,"g":"n","x":-1.2,"y":4.0},{"v":4,"d":3,"g":"n","x":-0.45,"y":5.8},{"v":4,"d":3,"g":"n","x":0.1,"y":5.0},
{"v":4,"d":3,"g":"p","x":-1.89,"y":4.65},{"v":4,"d":3,"g":"p","x":-1.74,"y":5.55},{"v":4,"d":3,"g":"p","x":-1.55,"y":6.2},{"v":4,"d":3,"g":"p","x":-1.31,"y":7.1},{"v":4,"d":3,"g":"p","x":-1.25,"y":6.3},{"v":4,"d":3,"g":"p","x":-0.98,"y":5.2},{"v":4,"d":3,"g":"p","x":-0.74,"y":5.3},{"v":4,"d":3,"g":"p","x":-0.5,"y":5.1},{"v":4,"d":3,"g":"p","x":-0.46,"y":3.9},{"v":4,"d":3,"g":"p","x":-0.31,"y":7.9},{"v":4,"d":3,"g":"p","x":-0.22,"y":6.2},{"v":4,"d":3,"g":"p","x":-0.03,"y":7.1},{"v":4,"d":3,"g":"p","x":0.21,"y":6.9},{"v":4,"d":3,"g":"p","x":0.26,"y":6.1},{"v":4,"d":3,"g":"p","x":0.11,"y":5.35},{"v":4,"d":3,"g":"p","x":-0.6,"y":5.5},{"v":4,"d":3,"g":"p","x":-0.9,"y":6.0},{"v":4,"d":3,"g":"p","x":-0.12,"y":4.1},{"v":4,"d":3,"g":"p","x":0.26,"y":4.0},{"v":4,"d":3,"g":"p","x":-1.95,"y":5.2},{"v":4,"d":3,"g":"p","x":-1.1,"y":5.9},{"v":4,"d":3,"g":"p","x":-0.4,"y":6.6},{"v":4,"d":3,"g":"p","x":0.0,"y":5.7},{"v":4,"d":3,"g":"p","x":0.3,"y":5.3},{"v":4,"d":3,"g":"p","x":-0.2,"y":4.8},{"v":4,"d":3,"g":"p","x":-1.4,"y":4.8},{"v":4,"d":3,"g":"p","x":-0.8,"y":4.5},{"v":4,"d":3,"g":"p","x":0.15,"y":6.4},{"v":4,"d":3,"g":"p","x":-0.55,"y":6.8},{"v":4,"d":3,"g":"p","x":-1.7,"y":4.5},{"v":4,"d":3,"g":"p","x":0.1,"y":3.6},{"v":4,"d":3,"g":"p","x":-0.35,"y":5.9},

{"v":5,"d":1,"g":"n","x":-2.05,"y":1.3},{"v":5,"d":1,"g":"n","x":-1.97,"y":1.45},{"v":5,"d":1,"g":"n","x":-1.89,"y":1.3},{"v":5,"d":1,"g":"n","x":-1.81,"y":1.45},{"v":5,"d":1,"g":"n","x":-1.73,"y":1.3},{"v":5,"d":1,"g":"n","x":-1.65,"y":1.45},{"v":5,"d":1,"g":"n","x":-1.57,"y":1.3},{"v":5,"d":1,"g":"n","x":-1.49,"y":1.45},{"v":5,"d":1,"g":"n","x":-1.41,"y":1.3},{"v":5,"d":1,"g":"n","x":-1.33,"y":1.45},{"v":5,"d":1,"g":"n","x":-1.25,"y":1.3},{"v":5,"d":1,"g":"n","x":-1.17,"y":1.45},{"v":5,"d":1,"g":"n","x":-1.09,"y":1.3},{"v":5,"d":1,"g":"n","x":-1.01,"y":1.45},{"v":5,"d":1,"g":"n","x":-0.93,"y":1.3},{"v":5,"d":1,"g":"n","x":-0.85,"y":1.45},{"v":5,"d":1,"g":"n","x":-0.77,"y":1.3},{"v":5,"d":1,"g":"n","x":-0.69,"y":1.45},{"v":5,"d":1,"g":"n","x":-0.61,"y":1.3},{"v":5,"d":1,"g":"n","x":-0.53,"y":1.45},{"v":5,"d":1,"g":"n","x":-0.45,"y":1.3},{"v":5,"d":1,"g":"n","x":-0.37,"y":1.45},{"v":5,"d":1,"g":"n","x":-0.29,"y":1.3},{"v":5,"d":1,"g":"n","x":-0.21,"y":1.45},{"v":5,"d":1,"g":"n","x":-0.13,"y":1.3},{"v":5,"d":1,"g":"n","x":-0.05,"y":1.45},{"v":5,"d":1,"g":"n","x":0.03,"y":1.3},{"v":5,"d":1,"g":"n","x":0.11,"y":1.45},{"v":5,"d":1,"g":"n","x":0.19,"y":1.3},{"v":5,"d":1,"g":"n","x":0.27,"y":1.45},{"v":5,"d":1,"g":"n","x":0.35,"y":1.3},{"v":5,"d":1,"g":"n","x":0.43,"y":1.45},{"v":5,"d":1,"g":"n","x":0.51,"y":1.3},{"v":5,"d":1,"g":"n","x":0.59,"y":1.45},{"v":5,"d":1,"g":"n","x":0.67,"y":1.3},{"v":5,"d":1,"g":"n","x":0.75,"y":1.45},{"v":5,"d":1,"g":"n","x":0.83,"y":1.3},{"v":5,"d":1,"g":"n","x":0.91,"y":1.45},{"v":5,"d":1,"g":"n","x":0.99,"y":1.3},{"v":5,"d":1,"g":"n","x":1.07,"y":1.45},{"v":5,"d":1,"g":"n","x":1.15,"y":1.3},{"v":5,"d":1,"g":"n","x":1.23,"y":1.45},{"v":5,"d":1,"g":"n","x":1.31,"y":1.3},{"v":5,"d":1,"g":"n","x":1.39,"y":1.45},{"v":5,"d":1,"g":"n","x":1.47,"y":1.3},{"v":5,"d":1,"g":"n","x":1.55,"y":1.45},{"v":5,"d":1,"g":"n","x":1.63,"y":1.3},{"v":5,"d":1,"g":"n","x":1.71,"y":1.45},{"v":5,"d":1,"g":"n","x":1.79,"y":1.3},{"v":5,"d":1,"g":"n","x":1.87,"y":1.45},{"v":5,"d":1,"g":"n","x":1.95,"y":1.3},
{"v":5,"d":1,"g":"n","x":-1.93,"y":4.85},{"v":5,"d":1,"g":"n","x":0.65,"y":6.0},{"v":5,"d":1,"g":"n","x":0.8,"y":5.4},{"v":5,"d":1,"g":"n","x":0.93,"y":4.2},{"v":5,"d":1,"g":"n","x":1.08,"y":3.5},{"v":5,"d":1,"g":"n","x":1.15,"y":3.9},{"v":5,"d":1,"g":"n","x":0.79,"y":3.6},{"v":5,"d":1,"g":"n","x":0.55,"y":4.2},{"v":5,"d":1,"g":"n","x":1.64,"y":6.3},{"v":5,"d":1,"g":"n","x":1.88,"y":5.5},{"v":5,"d":1,"g":"n","x":1.88,"y":4.2},{"v":5,"d":1,"g":"n","x":1.6,"y":3.35},{"v":5,"d":1,"g":"n","x":1.69,"y":2.45},{"v":5,"d":1,"g":"n","x":-0.02,"y":2.45},{"v":5,"d":1,"g":"n","x":0.3,"y":2.6},{"v":5,"d":1,"g":"n","x":0.9,"y":2.5},{"v":5,"d":1,"g":"n","x":-1.35,"y":5.0},{"v":5,"d":1,"g":"n","x":0.45,"y":5.3},{"v":5,"d":1,"g":"n","x":1.0,"y":5.0},{"v":5,"d":1,"g":"n","x":1.3,"y":4.5},{"v":5,"d":1,"g":"n","x":1.45,"y":5.6},{"v":5,"d":1,"g":"n","x":1.75,"y":3.2},{"v":5,"d":1,"g":"n","x":1.95,"y":2.2},{"v":5,"d":1,"g":"n","x":0.6,"y":3.0},{"v":5,"d":1,"g":"n","x":1.2,"y":2.2},{"v":5,"d":1,"g":"n","x":0.4,"y":4.6},{"v":5,"d":1,"g":"n","x":1.5,"y":2.8},{"v":5,"d":1,"g":"n","x":1.25,"y":5.4},
{"v":5,"d":1,"g":"n","x":0.5,"y":3.5},{"v":5,"d":1,"g":"n","x":0.7,"y":4.6},{"v":5,"d":1,"g":"n","x":0.85,"y":3.0},{"v":5,"d":1,"g":"n","x":1.0,"y":4.0},{"v":5,"d":1,"g":"n","x":1.1,"y":2.8},{"v":5,"d":1,"g":"n","x":1.35,"y":3.4},{"v":5,"d":1,"g":"n","x":1.4,"y":2.4},{"v":5,"d":1,"g":"n","x":1.55,"y":4.4},{"v":5,"d":1,"g":"n","x":1.7,"y":5.2},{"v":5,"d":1,"g":"n","x":1.8,"y":4.8},{"v":5,"d":1,"g":"n","x":1.95,"y":3.5},{"v":5,"d":1,"g":"n","x":1.25,"y":3.0},{"v":5,"d":1,"g":"n","x":0.95,"y":5.7},{"v":5,"d":1,"g":"n","x":1.6,"y":5.0},
{"v":5,"d":1,"g":"p","x":-1.88,"y":2.95},{"v":5,"d":1,"g":"p","x":-1.5,"y":6.0},{"v":5,"d":1,"g":"p","x":-1.35,"y":5.3},{"v":5,"d":1,"g":"p","x":-1.16,"y":5.75},{"v":5,"d":1,"g":"p","x":-1.07,"y":5.0},{"v":5,"d":1,"g":"p","x":-0.97,"y":4.1},{"v":5,"d":1,"g":"p","x":-0.83,"y":6.65},{"v":5,"d":1,"g":"p","x":-0.74,"y":6.0},{"v":5,"d":1,"g":"p","x":-0.5,"y":6.0},{"v":5,"d":1,"g":"p","x":-0.45,"y":5.0},{"v":5,"d":1,"g":"p","x":-0.59,"y":4.0},{"v":5,"d":1,"g":"p","x":-0.74,"y":3.3},{"v":5,"d":1,"g":"p","x":-1.02,"y":2.5},{"v":5,"d":1,"g":"p","x":-1.5,"y":2.3},{"v":5,"d":1,"g":"p","x":-1.3,"y":4.4},{"v":5,"d":1,"g":"p","x":-1.64,"y":3.75},{"v":5,"d":1,"g":"p","x":-0.3,"y":1.4},{"v":5,"d":1,"g":"p","x":0.36,"y":6.65},{"v":5,"d":1,"g":"p","x":0.55,"y":6.0},{"v":5,"d":1,"g":"p","x":0.74,"y":6.35},{"v":5,"d":1,"g":"p","x":1.12,"y":6.65},{"v":5,"d":1,"g":"p","x":1.26,"y":6.35},{"v":5,"d":1,"g":"p","x":1.55,"y":7.4},{"v":5,"d":1,"g":"p","x":1.7,"y":6.3},{"v":5,"d":1,"g":"p","x":0.5,"y":2.95},{"v":5,"d":1,"g":"p","x":0.17,"y":4.0},{"v":5,"d":1,"g":"p","x":0.65,"y":5.2},{"v":5,"d":1,"g":"p","x":-0.2,"y":4.0},{"v":5,"d":1,"g":"p","x":-1.8,"y":3.6},{"v":5,"d":1,"g":"p","x":-1.2,"y":3.6},{"v":5,"d":1,"g":"p","x":-0.9,"y":4.9},{"v":5,"d":1,"g":"p","x":-0.6,"y":5.2},{"v":5,"d":1,"g":"p","x":1.0,"y":5.8},{"v":5,"d":1,"g":"p","x":1.4,"y":6.0},{"v":5,"d":1,"g":"p","x":0.9,"y":6.4},{"v":5,"d":1,"g":"p","x":-1.4,"y":4.8},{"v":5,"d":1,"g":"p","x":-0.35,"y":4.6},{"v":5,"d":1,"g":"p","x":1.9,"y":5.9},{"v":5,"d":1,"g":"p","x":1.8,"y":6.8},

{"v":5,"d":2,"g":"p","x":-1.93,"y":7.2},{"v":5,"d":2,"g":"p","x":-1.88,"y":6.6},{"v":5,"d":2,"g":"p","x":-1.79,"y":5.3},{"v":5,"d":2,"g":"p","x":-1.69,"y":8.4},{"v":5,"d":2,"g":"p","x":-1.46,"y":8.2},{"v":5,"d":2,"g":"p","x":-1.32,"y":7.5},{"v":5,"d":2,"g":"p","x":-1.07,"y":8.0},{"v":5,"d":2,"g":"p","x":-0.93,"y":7.1},{"v":5,"d":2,"g":"p","x":-0.69,"y":9.2},{"v":5,"d":2,"g":"p","x":-0.55,"y":8.1},{"v":5,"d":2,"g":"p","x":-0.41,"y":8.0},{"v":5,"d":2,"g":"p","x":-0.98,"y":6.1},{"v":5,"d":2,"g":"p","x":-0.79,"y":5.4},{"v":5,"d":2,"g":"p","x":-1.46,"y":3.6},{"v":5,"d":2,"g":"p","x":-1.25,"y":6.4},{"v":5,"d":2,"g":"p","x":-1.2,"y":5.0},{"v":5,"d":2,"g":"p","x":-0.69,"y":2.95},{"v":5,"d":2,"g":"p","x":0.22,"y":8.4},{"v":5,"d":2,"g":"p","x":0.45,"y":9.5},{"v":5,"d":2,"g":"p","x":0.59,"y":8.8},{"v":5,"d":2,"g":"p","x":0.73,"y":8.0},{"v":5,"d":2,"g":"p","x":1.11,"y":9.35},{"v":5,"d":2,"g":"p","x":1.26,"y":8.8},{"v":5,"d":2,"g":"p","x":1.35,"y":8.0},{"v":5,"d":2,"g":"p","x":1.59,"y":9.2},{"v":5,"d":2,"g":"p","x":1.73,"y":8.5},{"v":5,"d":2,"g":"p","x":0.68,"y":6.1},{"v":5,"d":2,"g":"p","x":0.87,"y":7.3},{"v":5,"d":2,"g":"p","x":1.2,"y":7.8},{"v":5,"d":2,"g":"p","x":-1.6,"y":6.9},{"v":5,"d":2,"g":"p","x":-1.1,"y":6.8},{"v":5,"d":2,"g":"p","x":-0.6,"y":6.6},{"v":5,"d":2,"g":"p","x":-0.5,"y":7.3},{"v":5,"d":2,"g":"p","x":-1.8,"y":7.7},{"v":5,"d":2,"g":"p","x":0.35,"y":7.2},{"v":5,"d":2,"g":"p","x":1.5,"y":7.0},{"v":5,"d":2,"g":"p","x":1.9,"y":6.8},{"v":5,"d":2,"g":"p","x":-0.3,"y":7.8},{"v":5,"d":2,"g":"p","x":0.0,"y":6.2},
{"v":5,"d":2,"g":"n","x":0.78,"y":10.4},{"v":5,"d":2,"g":"n","x":0.31,"y":8.45},{"v":5,"d":2,"g":"n","x":0.87,"y":9.0},{"v":5,"d":2,"g":"n","x":1.68,"y":9.0},{"v":5,"d":2,"g":"n","x":1.87,"y":9.0},{"v":5,"d":2,"g":"n","x":-1.65,"y":8.35},{"v":5,"d":2,"g":"n","x":-1.36,"y":8.0},{"v":5,"d":2,"g":"n","x":1.87,"y":6.0},{"v":5,"d":2,"g":"n","x":1.73,"y":7.5},{"v":5,"d":2,"g":"n","x":0.5,"y":8.0},{"v":5,"d":2,"g":"n","x":1.0,"y":8.5},{"v":5,"d":2,"g":"n","x":0.6,"y":7.0},{"v":5,"d":2,"g":"n","x":1.4,"y":6.6},
{"v":5,"d":2,"g":"n","x":-2.03,"y":3.55},{"v":5,"d":2,"g":"n","x":-1.84,"y":3.1},{"v":5,"d":2,"g":"n","x":-1.6,"y":3.25},{"v":5,"d":2,"g":"n","x":-1.36,"y":2.9},{"v":5,"d":2,"g":"n","x":-1.22,"y":2.05},{"v":5,"d":2,"g":"n","x":-1.07,"y":1.4},{"v":5,"d":2,"g":"n","x":-0.69,"y":1.4},{"v":5,"d":2,"g":"n","x":-0.45,"y":2.25},{"v":5,"d":2,"g":"n","x":-0.2,"y":3.35},{"v":5,"d":2,"g":"n","x":0.07,"y":2.05},{"v":5,"d":2,"g":"n","x":-1.46,"y":4.65},{"v":5,"d":2,"g":"n","x":-1.0,"y":4.4},{"v":5,"d":2,"g":"n","x":-0.5,"y":5.3},{"v":5,"d":2,"g":"n","x":-0.31,"y":6.2},{"v":5,"d":2,"g":"n","x":-1.3,"y":6.9},{"v":5,"d":2,"g":"n","x":-1.9,"y":5.2},{"v":5,"d":2,"g":"n","x":-1.7,"y":4.3},{"v":5,"d":2,"g":"n","x":-1.15,"y":3.6},{"v":5,"d":2,"g":"n","x":-0.9,"y":2.6},{"v":5,"d":2,"g":"n","x":-0.8,"y":3.9},{"v":5,"d":2,"g":"n","x":-0.6,"y":3.1},{"v":5,"d":2,"g":"n","x":-0.35,"y":4.2},{"v":5,"d":2,"g":"n","x":-0.1,"y":4.8},{"v":5,"d":2,"g":"n","x":0.0,"y":3.0},{"v":5,"d":2,"g":"n","x":0.15,"y":4.0},{"v":5,"d":2,"g":"n","x":0.2,"y":2.6},{"v":5,"d":2,"g":"n","x":-0.25,"y":1.6},{"v":5,"d":2,"g":"n","x":-0.95,"y":5.6},
{"v":5,"d":2,"g":"n","x":0.35,"y":1.4},{"v":5,"d":2,"g":"n","x":0.35,"y":2.5},{"v":5,"d":2,"g":"n","x":0.36,"y":3.6},{"v":5,"d":2,"g":"n","x":0.45,"y":1.9},{"v":5,"d":2,"g":"n","x":0.44,"y":3.0},{"v":5,"d":2,"g":"n","x":0.46,"y":4.2},{"v":5,"d":2,"g":"n","x":0.55,"y":1.4},{"v":5,"d":2,"g":"n","x":0.54,"y":2.4},{"v":5,"d":2,"g":"n","x":0.56,"y":3.5},{"v":5,"d":2,"g":"n","x":0.55,"y":4.5},{"v":5,"d":2,"g":"n","x":0.65,"y":1.8},{"v":5,"d":2,"g":"n","x":0.64,"y":2.9},{"v":5,"d":2,"g":"n","x":0.66,"y":4.0},{"v":5,"d":2,"g":"n","x":0.75,"y":1.4},{"v":5,"d":2,"g":"n","x":0.74,"y":2.4},{"v":5,"d":2,"g":"n","x":0.76,"y":3.4},{"v":5,"d":2,"g":"n","x":0.75,"y":4.4},{"v":5,"d":2,"g":"n","x":0.85,"y":1.9},{"v":5,"d":2,"g":"n","x":0.84,"y":3.0},{"v":5,"d":2,"g":"n","x":0.86,"y":4.1},{"v":5,"d":2,"g":"n","x":0.95,"y":1.4},{"v":5,"d":2,"g":"n","x":0.94,"y":2.5},{"v":5,"d":2,"g":"n","x":0.96,"y":3.5},{"v":5,"d":2,"g":"n","x":0.95,"y":4.6},{"v":5,"d":2,"g":"n","x":1.05,"y":1.8},{"v":5,"d":2,"g":"n","x":1.04,"y":2.9},{"v":5,"d":2,"g":"n","x":1.06,"y":3.9},{"v":5,"d":2,"g":"n","x":1.15,"y":1.4},{"v":5,"d":2,"g":"n","x":1.14,"y":2.4},{"v":5,"d":2,"g":"n","x":1.16,"y":3.4},{"v":5,"d":2,"g":"n","x":1.15,"y":4.4},{"v":5,"d":2,"g":"n","x":1.25,"y":1.9},{"v":5,"d":2,"g":"n","x":1.24,"y":3.0},{"v":5,"d":2,"g":"n","x":1.26,"y":4.1},{"v":5,"d":2,"g":"n","x":1.35,"y":1.4},{"v":5,"d":2,"g":"n","x":1.34,"y":2.5},{"v":5,"d":2,"g":"n","x":1.36,"y":3.5},{"v":5,"d":2,"g":"n","x":1.35,"y":4.5},{"v":5,"d":2,"g":"n","x":1.45,"y":1.8},{"v":5,"d":2,"g":"n","x":1.44,"y":2.9},{"v":5,"d":2,"g":"n","x":1.46,"y":4.0},{"v":5,"d":2,"g":"n","x":1.55,"y":1.4},{"v":5,"d":2,"g":"n","x":1.54,"y":2.4},{"v":5,"d":2,"g":"n","x":1.56,"y":3.4},{"v":5,"d":2,"g":"n","x":1.55,"y":4.4},{"v":5,"d":2,"g":"n","x":1.65,"y":1.9},{"v":5,"d":2,"g":"n","x":1.64,"y":3.0},{"v":5,"d":2,"g":"n","x":1.66,"y":4.1},{"v":5,"d":2,"g":"n","x":1.75,"y":1.4},{"v":5,"d":2,"g":"n","x":1.74,"y":2.5},{"v":5,"d":2,"g":"n","x":1.76,"y":3.5},{"v":5,"d":2,"g":"n","x":1.75,"y":4.6},{"v":5,"d":2,"g":"n","x":1.85,"y":1.8},{"v":5,"d":2,"g":"n","x":1.84,"y":2.9},{"v":5,"d":2,"g":"n","x":1.86,"y":3.9},{"v":5,"d":2,"g":"n","x":1.95,"y":1.4},{"v":5,"d":2,"g":"n","x":1.94,"y":2.4},{"v":5,"d":2,"g":"n","x":1.96,"y":3.4},{"v":5,"d":2,"g":"n","x":1.95,"y":4.3},{"v":5,"d":2,"g":"n","x":0.6,"y":5.2},{"v":5,"d":2,"g":"n","x":1.1,"y":5.0},{"v":5,"d":2,"g":"n","x":1.5,"y":5.1},{"v":5,"d":2,"g":"n","x":1.9,"y":5.0},
{"v":5,"d":2,"g":"n","x":0.4,"y":2.0},{"v":5,"d":2,"g":"n","x":0.4,"y":3.1},{"v":5,"d":2,"g":"n","x":0.4,"y":4.0},{"v":5,"d":2,"g":"n","x":0.5,"y":1.5},{"v":5,"d":2,"g":"n","x":0.5,"y":2.6},{"v":5,"d":2,"g":"n","x":0.5,"y":3.7},{"v":5,"d":2,"g":"n","x":0.6,"y":2.1},{"v":5,"d":2,"g":"n","x":0.6,"y":3.2},{"v":5,"d":2,"g":"n","x":0.6,"y":4.3},{"v":5,"d":2,"g":"n","x":0.7,"y":1.6},{"v":5,"d":2,"g":"n","x":0.7,"y":2.9},{"v":5,"d":2,"g":"n","x":0.7,"y":3.9},{"v":5,"d":2,"g":"n","x":0.8,"y":2.0},{"v":5,"d":2,"g":"n","x":0.8,"y":3.1},{"v":5,"d":2,"g":"n","x":0.8,"y":4.2},{"v":5,"d":2,"g":"n","x":0.9,"y":1.5},{"v":5,"d":2,"g":"n","x":0.9,"y":2.6},{"v":5,"d":2,"g":"n","x":0.9,"y":3.7},{"v":5,"d":2,"g":"n","x":1.0,"y":2.1},{"v":5,"d":2,"g":"n","x":1.0,"y":3.2},{"v":5,"d":2,"g":"n","x":1.0,"y":4.3},{"v":5,"d":2,"g":"n","x":1.1,"y":1.6},{"v":5,"d":2,"g":"n","x":1.1,"y":2.9},{"v":5,"d":2,"g":"n","x":1.1,"y":3.9},{"v":5,"d":2,"g":"n","x":1.2,"y":2.0},{"v":5,"d":2,"g":"n","x":1.2,"y":3.1},{"v":5,"d":2,"g":"n","x":1.2,"y":4.2},{"v":5,"d":2,"g":"n","x":1.3,"y":1.5},{"v":5,"d":2,"g":"n","x":1.3,"y":2.6},{"v":5,"d":2,"g":"n","x":1.3,"y":3.7},{"v":5,"d":2,"g":"n","x":1.4,"y":2.1},{"v":5,"d":2,"g":"n","x":1.4,"y":3.2},{"v":5,"d":2,"g":"n","x":1.4,"y":4.3},{"v":5,"d":2,"g":"n","x":1.5,"y":1.6},{"v":5,"d":2,"g":"n","x":1.5,"y":2.9},{"v":5,"d":2,"g":"n","x":1.5,"y":3.9},{"v":5,"d":2,"g":"n","x":1.6,"y":2.0},{"v":5,"d":2,"g":"n","x":1.6,"y":3.1},{"v":5,"d":2,"g":"n","x":1.6,"y":4.2},{"v":5,"d":2,"g":"n","x":1.7,"y":1.5},{"v":5,"d":2,"g":"n","x":1.7,"y":2.6},{"v":5,"d":2,"g":"n","x":1.7,"y":3.7},{"v":5,"d":2,"g":"n","x":1.8,"y":2.1},{"v":5,"d":2,"g":"n","x":1.8,"y":3.2},{"v":5,"d":2,"g":"n","x":1.8,"y":4.3},{"v":5,"d":2,"g":"n","x":1.9,"y":1.6},{"v":5,"d":2,"g":"n","x":1.9,"y":2.9},{"v":5,"d":2,"g":"n","x":1.9,"y":3.9},

{"v":5,"d":3,"g":"p","x":-1.84,"y":7.1},{"v":5,"d":3,"g":"p","x":-1.7,"y":6.65},{"v":5,"d":3,"g":"p","x":-1.36,"y":7.8},{"v":5,"d":3,"g":"p","x":-1.17,"y":7.6},{"v":5,"d":3,"g":"p","x":-0.98,"y":8.6},{"v":5,"d":3,"g":"p","x":-0.74,"y":10.9},{"v":5,"d":3,"g":"p","x":-0.65,"y":8.1},{"v":5,"d":3,"g":"p","x":-0.55,"y":8.8},{"v":5,"d":3,"g":"p","x":-0.79,"y":7.35},{"v":5,"d":3,"g":"p","x":-1.45,"y":4.55},{"v":5,"d":3,"g":"p","x":-0.9,"y":5.0},{"v":5,"d":3,"g":"p","x":0.45,"y":8.4},{"v":5,"d":3,"g":"p","x":0.59,"y":8.8},{"v":5,"d":3,"g":"p","x":0.73,"y":8.3},{"v":5,"d":3,"g":"p","x":0.97,"y":8.8},{"v":5,"d":3,"g":"p","x":1.12,"y":10.0},{"v":5,"d":3,"g":"p","x":1.26,"y":9.0},{"v":5,"d":3,"g":"p","x":1.45,"y":8.3},{"v":5,"d":3,"g":"p","x":1.59,"y":8.6},{"v":5,"d":3,"g":"p","x":1.69,"y":7.7},{"v":5,"d":3,"g":"p","x":0.6,"y":7.5},{"v":5,"d":3,"g":"p","x":1.0,"y":7.2},{"v":5,"d":3,"g":"p","x":1.45,"y":2.25},{"v":5,"d":3,"g":"p","x":1.3,"y":7.6},{"v":5,"d":3,"g":"p","x":-1.95,"y":6.4},{"v":5,"d":3,"g":"p","x":-1.5,"y":6.3},{"v":5,"d":3,"g":"p","x":-1.2,"y":6.8},{"v":5,"d":3,"g":"p","x":-0.6,"y":6.6},{"v":5,"d":3,"g":"p","x":-0.4,"y":7.3},{"v":5,"d":3,"g":"p","x":0.3,"y":7.0},{"v":5,"d":3,"g":"p","x":1.8,"y":8.2},{"v":5,"d":3,"g":"p","x":1.9,"y":7.4},{"v":5,"d":3,"g":"p","x":-1.05,"y":6.0},
{"v":5,"d":3,"g":"n","x":-2.03,"y":4.9},{"v":5,"d":3,"g":"n","x":-1.89,"y":6.65},{"v":5,"d":3,"g":"n","x":-1.6,"y":6.9},{"v":5,"d":3,"g":"n","x":-1.35,"y":6.4},{"v":5,"d":3,"g":"n","x":-0.98,"y":6.1},{"v":5,"d":3,"g":"n","x":-0.65,"y":3.15},{"v":5,"d":3,"g":"n","x":0.02,"y":7.8},{"v":5,"d":3,"g":"n","x":0.07,"y":4.2},{"v":5,"d":3,"g":"n","x":0.45,"y":1.8},{"v":5,"d":3,"g":"n","x":0.64,"y":1.6},{"v":5,"d":3,"g":"n","x":0.93,"y":1.4},{"v":5,"d":3,"g":"n","x":1.17,"y":1.5},{"v":5,"d":3,"g":"n","x":1.36,"y":1.5},{"v":5,"d":3,"g":"n","x":1.6,"y":1.4},{"v":5,"d":3,"g":"n","x":1.88,"y":1.4},{"v":5,"d":3,"g":"n","x":1.93,"y":9.0},{"v":5,"d":3,"g":"n","x":1.79,"y":9.0},{"v":5,"d":3,"g":"n","x":1.4,"y":8.0},{"v":5,"d":3,"g":"n","x":0.83,"y":8.8},{"v":5,"d":3,"g":"n","x":-1.8,"y":5.8},{"v":5,"d":3,"g":"n","x":-1.7,"y":5.4},{"v":5,"d":3,"g":"n","x":-1.5,"y":5.5},{"v":5,"d":3,"g":"n","x":-1.25,"y":5.9},{"v":5,"d":3,"g":"n","x":-1.1,"y":5.2},{"v":5,"d":3,"g":"n","x":-0.85,"y":5.7},{"v":5,"d":3,"g":"n","x":-0.7,"y":4.8},{"v":5,"d":3,"g":"n","x":-0.55,"y":5.9},{"v":5,"d":3,"g":"n","x":-0.4,"y":5.1},{"v":5,"d":3,"g":"n","x":-0.25,"y":6.3},{"v":5,"d":3,"g":"n","x":-0.1,"y":5.5},{"v":5,"d":3,"g":"n","x":0.1,"y":6.0},{"v":5,"d":3,"g":"n","x":0.2,"y":5.2},{"v":5,"d":3,"g":"n","x":-0.3,"y":4.3},{"v":5,"d":3,"g":"n","x":-1.4,"y":5.2},{"v":5,"d":3,"g":"n","x":-1.0,"y":4.6},{"v":5,"d":3,"g":"n","x":-0.15,"y":7.0},{"v":5,"d":3,"g":"n","x":0.25,"y":7.3},
{"v":5,"d":3,"g":"n","x":0.3,"y":2.6},{"v":5,"d":3,"g":"n","x":0.31,"y":3.7},{"v":5,"d":3,"g":"n","x":0.3,"y":4.8},{"v":5,"d":3,"g":"n","x":0.32,"y":5.9},{"v":5,"d":3,"g":"n","x":0.4,"y":3.1},{"v":5,"d":3,"g":"n","x":0.41,"y":4.2},{"v":5,"d":3,"g":"n","x":0.4,"y":5.3},{"v":5,"d":3,"g":"n","x":0.42,"y":6.4},{"v":5,"d":3,"g":"n","x":0.5,"y":2.4},{"v":5,"d":3,"g":"n","x":0.51,"y":3.5},{"v":5,"d":3,"g":"n","x":0.5,"y":4.6},{"v":5,"d":3,"g":"n","x":0.52,"y":5.7},{"v":5,"d":3,"g":"n","x":0.6,"y":3.0},{"v":5,"d":3,"g":"n","x":0.61,"y":4.1},{"v":5,"d":3,"g":"n","x":0.6,"y":5.2},{"v":5,"d":3,"g":"n","x":0.62,"y":6.3},{"v":5,"d":3,"g":"n","x":0.7,"y":2.5},{"v":5,"d":3,"g":"n","x":0.71,"y":3.6},{"v":5,"d":3,"g":"n","x":0.7,"y":4.7},{"v":5,"d":3,"g":"n","x":0.72,"y":5.8},{"v":5,"d":3,"g":"n","x":0.8,"y":2.2},{"v":5,"d":3,"g":"n","x":0.81,"y":3.2},{"v":5,"d":3,"g":"n","x":0.8,"y":4.3},{"v":5,"d":3,"g":"n","x":0.82,"y":5.4},{"v":5,"d":3,"g":"n","x":0.8,"y":6.5},{"v":5,"d":3,"g":"n","x":0.9,"y":2.7},{"v":5,"d":3,"g":"n","x":0.91,"y":3.8},{"v":5,"d":3,"g":"n","x":0.9,"y":4.9},{"v":5,"d":3,"g":"n","x":0.92,"y":6.0},{"v":5,"d":3,"g":"n","x":1.0,"y":2.3},{"v":5,"d":3,"g":"n","x":1.01,"y":3.4},{"v":5,"d":3,"g":"n","x":1.0,"y":4.5},{"v":5,"d":3,"g":"n","x":1.02,"y":5.6},{"v":5,"d":3,"g":"n","x":1.0,"y":6.7},{"v":5,"d":3,"g":"n","x":1.1,"y":2.8},{"v":5,"d":3,"g":"n","x":1.11,"y":3.9},{"v":5,"d":3,"g":"n","x":1.1,"y":5.0},{"v":5,"d":3,"g":"n","x":1.12,"y":6.1},{"v":5,"d":3,"g":"n","x":1.2,"y":2.2},{"v":5,"d":3,"g":"n","x":1.21,"y":3.3},{"v":5,"d":3,"g":"n","x":1.2,"y":4.4},{"v":5,"d":3,"g":"n","x":1.22,"y":5.5},{"v":5,"d":3,"g":"n","x":1.2,"y":6.6},{"v":5,"d":3,"g":"n","x":1.3,"y":2.7},{"v":5,"d":3,"g":"n","x":1.31,"y":3.8},{"v":5,"d":3,"g":"n","x":1.3,"y":4.9},{"v":5,"d":3,"g":"n","x":1.32,"y":6.0},{"v":5,"d":3,"g":"n","x":1.4,"y":2.4},{"v":5,"d":3,"g":"n","x":1.41,"y":3.5},{"v":5,"d":3,"g":"n","x":1.4,"y":4.6},{"v":5,"d":3,"g":"n","x":1.42,"y":5.7},{"v":5,"d":3,"g":"n","x":1.5,"y":2.9},{"v":5,"d":3,"g":"n","x":1.51,"y":4.0},{"v":5,"d":3,"g":"n","x":1.5,"y":5.1},{"v":5,"d":3,"g":"n","x":1.52,"y":6.2},{"v":5,"d":3,"g":"n","x":1.6,"y":2.3},{"v":5,"d":3,"g":"n","x":1.61,"y":3.4},{"v":5,"d":3,"g":"n","x":1.6,"y":4.5},{"v":5,"d":3,"g":"n","x":1.62,"y":5.6},{"v":5,"d":3,"g":"n","x":1.6,"y":6.8},{"v":5,"d":3,"g":"n","x":1.7,"y":2.8},{"v":5,"d":3,"g":"n","x":1.71,"y":3.9},{"v":5,"d":3,"g":"n","x":1.7,"y":5.0},{"v":5,"d":3,"g":"n","x":1.72,"y":6.1},{"v":5,"d":3,"g":"n","x":1.8,"y":2.2},{"v":5,"d":3,"g":"n","x":1.81,"y":3.3},{"v":5,"d":3,"g":"n","x":1.8,"y":4.4},{"v":5,"d":3,"g":"n","x":1.82,"y":5.5},{"v":5,"d":3,"g":"n","x":1.8,"y":6.6},{"v":5,"d":3,"g":"n","x":1.9,"y":2.7},{"v":5,"d":3,"g":"n","x":1.91,"y":3.8},{"v":5,"d":3,"g":"n","x":1.9,"y":4.9},{"v":5,"d":3,"g":"n","x":1.92,"y":6.0},{"v":5,"d":3,"g":"n","x":1.96,"y":2.3},{"v":5,"d":3,"g":"n","x":1.96,"y":3.4},{"v":5,"d":3,"g":"n","x":1.97,"y":4.5},{"v":5,"d":3,"g":"n","x":1.96,"y":5.3},
{"v":5,"d":3,"g":"n","x":0.35,"y":3.2},{"v":5,"d":3,"g":"n","x":0.35,"y":4.3},{"v":5,"d":3,"g":"n","x":0.35,"y":5.4},{"v":5,"d":3,"g":"n","x":0.45,"y":2.6},{"v":5,"d":3,"g":"n","x":0.45,"y":3.7},{"v":5,"d":3,"g":"n","x":0.45,"y":4.8},{"v":5,"d":3,"g":"n","x":0.45,"y":5.9},{"v":5,"d":3,"g":"n","x":0.55,"y":3.0},{"v":5,"d":3,"g":"n","x":0.55,"y":4.1},{"v":5,"d":3,"g":"n","x":0.55,"y":5.2},{"v":5,"d":3,"g":"n","x":0.55,"y":6.0},{"v":5,"d":3,"g":"n","x":0.65,"y":2.5},{"v":5,"d":3,"g":"n","x":0.65,"y":3.6},{"v":5,"d":3,"g":"n","x":0.65,"y":4.7},{"v":5,"d":3,"g":"n","x":0.65,"y":5.8},{"v":5,"d":3,"g":"n","x":0.75,"y":3.1},{"v":5,"d":3,"g":"n","x":0.75,"y":4.2},{"v":5,"d":3,"g":"n","x":0.75,"y":5.3},{"v":5,"d":3,"g":"n","x":0.75,"y":6.2},{"v":5,"d":3,"g":"n","x":0.85,"y":2.7},{"v":5,"d":3,"g":"n","x":0.85,"y":3.8},{"v":5,"d":3,"g":"n","x":0.85,"y":4.9},{"v":5,"d":3,"g":"n","x":0.85,"y":6.0},{"v":5,"d":3,"g":"n","x":0.95,"y":3.2},{"v":5,"d":3,"g":"n","x":0.95,"y":4.3},{"v":5,"d":3,"g":"n","x":0.95,"y":5.4},{"v":5,"d":3,"g":"n","x":1.05,"y":2.8},{"v":5,"d":3,"g":"n","x":1.05,"y":3.9},{"v":5,"d":3,"g":"n","x":1.05,"y":5.0},{"v":5,"d":3,"g":"n","x":1.05,"y":6.1},{"v":5,"d":3,"g":"n","x":1.15,"y":3.4},{"v":5,"d":3,"g":"n","x":1.15,"y":4.5},{"v":5,"d":3,"g":"n","x":1.15,"y":5.6},{"v":5,"d":3,"g":"n","x":1.25,"y":2.9},{"v":5,"d":3,"g":"n","x":1.25,"y":4.0},{"v":5,"d":3,"g":"n","x":1.25,"y":5.1},{"v":5,"d":3,"g":"n","x":1.25,"y":6.2},{"v":5,"d":3,"g":"n","x":1.35,"y":3.3},{"v":5,"d":3,"g":"n","x":1.35,"y":4.4},{"v":5,"d":3,"g":"n","x":1.35,"y":5.5},{"v":5,"d":3,"g":"n","x":1.45,"y":2.8},{"v":5,"d":3,"g":"n","x":1.45,"y":3.9},{"v":5,"d":3,"g":"n","x":1.45,"y":5.0},{"v":5,"d":3,"g":"n","x":1.45,"y":6.1},{"v":5,"d":3,"g":"n","x":1.55,"y":3.4},{"v":5,"d":3,"g":"n","x":1.55,"y":4.5},{"v":5,"d":3,"g":"n","x":1.55,"y":5.6},{"v":5,"d":3,"g":"n","x":1.65,"y":2.9},{"v":5,"d":3,"g":"n","x":1.65,"y":4.0},{"v":5,"d":3,"g":"n","x":1.65,"y":5.1},{"v":5,"d":3,"g":"n","x":1.65,"y":6.2},{"v":5,"d":3,"g":"n","x":1.75,"y":3.3},{"v":5,"d":3,"g":"n","x":1.75,"y":4.4},{"v":5,"d":3,"g":"n","x":1.75,"y":5.5},{"v":5,"d":3,"g":"n","x":1.85,"y":2.8},{"v":5,"d":3,"g":"n","x":1.85,"y":3.9},{"v":5,"d":3,"g":"n","x":1.85,"y":5.0},{"v":5,"d":3,"g":"n","x":1.85,"y":6.1},{"v":5,"d":3,"g":"n","x":1.95,"y":3.0},{"v":5,"d":3,"g":"n","x":1.95,"y":4.0},{"v":5,"d":3,"g":"n","x":1.95,"y":5.0},

{"v":6,"d":1,"g":"n","x":-2.08,"y":1.3},{"v":6,"d":1,"g":"n","x":-1.47,"y":1.3},{"v":6,"d":1,"g":"n","x":-1.07,"y":1.3},{"v":6,"d":1,"g":"n","x":-0.94,"y":1.3},{"v":6,"d":1,"g":"n","x":-0.83,"y":2.0},{"v":6,"d":1,"g":"n","x":-0.77,"y":1.3},{"v":6,"d":1,"g":"n","x":-0.69,"y":1.3},{"v":6,"d":1,"g":"n","x":-0.53,"y":1.3},{"v":6,"d":1,"g":"n","x":-0.34,"y":2.65},{"v":6,"d":1,"g":"n","x":0.0,"y":1.3},{"v":6,"d":1,"g":"n","x":0.18,"y":1.3},
{"v":6,"d":1,"g":"p","x":-1.07,"y":5.2},{"v":6,"d":1,"g":"p","x":-1.07,"y":1.15},{"v":6,"d":1,"g":"p","x":-0.11,"y":4.9},{"v":6,"d":1,"g":"p","x":0.18,"y":5.5},{"v":6,"d":1,"g":"p","x":0.06,"y":1.15},
{"v":6,"d":2,"g":"n","x":-2.08,"y":2.15},{"v":6,"d":2,"g":"n","x":-1.47,"y":4.1},{"v":6,"d":2,"g":"n","x":-1.47,"y":2.65},{"v":6,"d":2,"g":"n","x":-0.93,"y":4.25},{"v":6,"d":2,"g":"n","x":-0.77,"y":4.55},{"v":6,"d":2,"g":"n","x":-0.77,"y":1.65},{"v":6,"d":2,"g":"n","x":-0.7,"y":2.0},{"v":6,"d":2,"g":"n","x":-0.82,"y":3.3},{"v":6,"d":2,"g":"n","x":-0.53,"y":4.5},{"v":6,"d":2,"g":"n","x":-0.35,"y":4.3},{"v":6,"d":2,"g":"n","x":0.01,"y":3.25},{"v":6,"d":2,"g":"n","x":0.09,"y":3.65},{"v":6,"d":2,"g":"n","x":0.18,"y":3.9},
{"v":6,"d":2,"g":"p","x":-1.05,"y":5.25},{"v":6,"d":2,"g":"p","x":-1.05,"y":3.75},{"v":6,"d":2,"g":"p","x":-0.11,"y":8.25},{"v":6,"d":2,"g":"p","x":0.18,"y":8.25},{"v":6,"d":2,"g":"p","x":0.08,"y":4.55},
{"v":7,"d":1,"g":"n","x":-2.08,"y":1.35},{"v":7,"d":1,"g":"n","x":-1.66,"y":2.8},{"v":7,"d":1,"g":"n","x":-1.59,"y":1.35},{"v":7,"d":1,"g":"n","x":-1.26,"y":1.35},{"v":7,"d":1,"g":"n","x":-0.99,"y":2.9},{"v":7,"d":1,"g":"n","x":-0.88,"y":1.95},{"v":7,"d":1,"g":"n","x":-0.83,"y":3.05},{"v":7,"d":1,"g":"n","x":-0.76,"y":1.35},{"v":7,"d":1,"g":"n","x":-0.64,"y":3.05},{"v":7,"d":1,"g":"n","x":-0.59,"y":1.35},{"v":7,"d":1,"g":"n","x":-0.59,"y":2.65},{"v":7,"d":1,"g":"n","x":-0.47,"y":4.7},{"v":7,"d":1,"g":"n","x":-0.41,"y":1.35},{"v":7,"d":1,"g":"n","x":-0.29,"y":1.35},{"v":7,"d":1,"g":"n","x":0.25,"y":1.35},{"v":7,"d":1,"g":"n","x":0.3,"y":1.35},
{"v":7,"d":1,"g":"p","x":-1.77,"y":3.55},{"v":7,"d":1,"g":"p","x":-1.37,"y":1.35},{"v":7,"d":1,"g":"p","x":-0.88,"y":4.5},{"v":7,"d":1,"g":"p","x":-0.88,"y":4.05},{"v":7,"d":1,"g":"p","x":-0.94,"y":2.45},{"v":7,"d":1,"g":"p","x":-0.64,"y":4.4},{"v":7,"d":1,"g":"p","x":-0.59,"y":4.8},{"v":7,"d":1,"g":"p","x":-0.52,"y":4.9},{"v":7,"d":1,"g":"p","x":-0.23,"y":1.35},
{"v":7,"d":2,"g":"n","x":-2.07,"y":4.25},{"v":7,"d":2,"g":"n","x":-1.65,"y":3.7},{"v":7,"d":2,"g":"n","x":-1.6,"y":3.45},{"v":7,"d":2,"g":"n","x":-1.3,"y":4.3},{"v":7,"d":2,"g":"n","x":-1.22,"y":4.4},{"v":7,"d":2,"g":"n","x":-0.99,"y":8.0},{"v":7,"d":2,"g":"n","x":-0.99,"y":5.7},{"v":7,"d":2,"g":"n","x":-0.82,"y":5.0},{"v":7,"d":2,"g":"n","x":-0.77,"y":2.55},{"v":7,"d":2,"g":"n","x":-0.63,"y":5.5},{"v":7,"d":2,"g":"n","x":-0.58,"y":5.65},{"v":7,"d":2,"g":"n","x":-0.47,"y":6.95},{"v":7,"d":2,"g":"n","x":-0.58,"y":3.7},{"v":7,"d":2,"g":"n","x":-0.4,"y":3.4},{"v":7,"d":2,"g":"n","x":-0.29,"y":1.6},{"v":7,"d":2,"g":"n","x":0.24,"y":2.9},{"v":7,"d":2,"g":"n","x":0.31,"y":1.35},
{"v":7,"d":2,"g":"p","x":-1.77,"y":8.75},{"v":7,"d":2,"g":"p","x":-1.36,"y":2.8},{"v":7,"d":2,"g":"p","x":-0.89,"y":7.9},{"v":7,"d":2,"g":"p","x":-0.88,"y":7.15},{"v":7,"d":2,"g":"p","x":-0.8,"y":5.9},{"v":7,"d":2,"g":"p","x":-0.63,"y":6.9},{"v":7,"d":2,"g":"p","x":-0.58,"y":7.85},{"v":7,"d":2,"g":"p","x":-0.51,"y":7.85},{"v":7,"d":2,"g":"p","x":-0.23,"y":2.25},{"v":7,"d":2,"g":"p","x":-0.85,"y":5.6}
]},
"facet":{
 "row":{"field":"v","type":"ordinal","title":null,"header":{"labels":false,"title":null}},
 "column":{"field":"d","type":"ordinal","title":null,"header":{"labels":false,"title":null}}
},
"bounds":"flush",
"spacing":{"row":22,"column":22},
"spec":{
 "width":587,"height":226,
 "resolve":{"axis":{"x":"independent","y":"independent"}},
 "layer":[
  {"transform":[{"filter":"datum.k == 'cell' && datum.v == 1"}],
   "mark":{"type":"rect","fill":"#D9D9D9"},
   "encoding":{
    "x":{"datum":-2.32,"type":"quantitative","scale":{"domain":[-2.32,2.21],"nice":false,"zero":false},"axis":null},
    "x2":{"datum":2.21},
    "y":{"datum":12.05,"type":"quantitative","scale":{"domain":[-2.8,12.05],"nice":false,"zero":false},"axis":null},
    "y2":{"datum":16.85}}},
  {"transform":[{"filter":"datum.k == 'cell' && datum.v == 1"}],
   "mark":{"type":"text","fontSize":33.5,"color":"#1A1A1A","font":"Liberation Sans","align":"center","baseline":"middle"},
   "encoding":{
    "x":{"datum":-0.055,"type":"quantitative","scale":{"domain":[-2.32,2.21],"nice":false,"zero":false},"axis":null},
    "y":{"datum":14.45,"type":"quantitative","scale":{"domain":[-2.8,12.05],"nice":false,"zero":false},"axis":null},
    "text":{"field":"cl"}}},
  {"transform":[{"filter":"datum.k == 'cell' && datum.d == 3"}],
   "mark":{"type":"rect","fill":"#D9D9D9"},
   "encoding":{
    "x":{"datum":2.225,"type":"quantitative","scale":{"domain":[-2.32,2.21],"nice":false,"zero":false},"axis":null},
    "x2":{"datum":3.075},
    "y":{"datum":-2.8,"type":"quantitative","scale":{"domain":[-2.8,12.05],"nice":false,"zero":false},"axis":null},
    "y2":{"datum":12.05}}},
  {"transform":[{"filter":"datum.k == 'cell' && datum.d == 3 && indexof(datum.rl, '\\n') < 0"}],
   "mark":{"type":"text","fontSize":33.5,"color":"#1A1A1A","font":"Liberation Sans","align":"center","baseline":"middle","angle":90},
   "encoding":{
    "x":{"datum":2.65,"type":"quantitative","scale":{"domain":[-2.32,2.21],"nice":false,"zero":false},"axis":null},
    "y":{"datum":4.625,"type":"quantitative","scale":{"domain":[-2.8,12.05],"nice":false,"zero":false},"axis":null},
    "text":{"field":"rl"}}},
  {"transform":[{"filter":"datum.k == 'cell' && datum.d == 3 && indexof(datum.rl, '\\n') >= 0"}],
   "mark":{"type":"text","fontSize":33.5,"color":"#1A1A1A","font":"Liberation Sans","align":"center","baseline":"middle","angle":90,"lineBreak":"\n","lineHeight":38},
   "encoding":{
    "x":{"datum":2.72,"type":"quantitative","scale":{"domain":[-2.32,2.21],"nice":false,"zero":false},"axis":null},
    "y":{"datum":4.625,"type":"quantitative","scale":{"domain":[-2.8,12.05],"nice":false,"zero":false},"axis":null},
    "text":{"field":"rl"}}},
  {"transform":[{"filter":"datum.k == 'cell' && isValid(datum.yt)"}],
   "mark":{"type":"text","fontSize":42,"color":"#000000","font":"Liberation Sans","align":"center","baseline":"middle","angle":270},
   "encoding":{
    "x":{"datum":-3.08,"type":"quantitative","scale":{"domain":[-2.32,2.21],"nice":false,"zero":false},"axis":null},
    "y":{"datum":4.625,"type":"quantitative","scale":{"domain":[-2.8,12.05],"nice":false,"zero":false},"axis":null},
    "text":{"field":"yt"}}},
  {"transform":[{"filter":"datum.k == 'cell' && isValid(datum.xt)"}],
   "mark":{"type":"text","fontSize":42,"color":"#000000","font":"Liberation Sans","align":"center","baseline":"middle"},
   "encoding":{
    "x":{"datum":-0.055,"type":"quantitative","scale":{"domain":[-2.32,2.21],"nice":false,"zero":false},"axis":null},
    "y":{"datum":-8.52,"type":"quantitative","scale":{"domain":[-2.8,12.05],"nice":false,"zero":false},"axis":null},
    "text":{"field":"xt"}}},
  {"transform":[{"filter":"datum.k == null"}],
   "mark":{"type":"point","filled":true,"size":260,"opacity":1,"strokeWidth":0,"shape":"circle"},
   "encoding":{
    "x":{"field":"x","type":"quantitative","scale":{"domain":[-2.32,2.21],"nice":false,"zero":false},"title":null,
     "axis":{"values":[-2,-1,0,1,2],"labelExpr":"'' + datum.value","gridWidth":4,"labelFlush":false,"labelOverlap":false,"labelPadding":6,"orient":"bottom"}},
    "y":{"field":"y","type":"quantitative","scale":{"domain":[-2.8,12.05],"nice":false,"zero":false},"title":null,
     "axis":{"values":[0,4,8,12],"gridWidth":4,"labelFlush":false,"labelOverlap":false,"labelPadding":8,"orient":"left"}},
    "color":{"field":"g","type":"nominal","scale":{"domain":["n","p"],"range":["#1874CD","#262626"]},
     "legend":{"orient":"none","direction":"horizontal","legendX":384,"legendY":-196,"title":null,
      "labelExpr":"datum.value == 'n' ? 'SARS CoV-2 negative' : 'SARS CoV-2 positive'",
      "symbolType":"M-1,-0.17L1,-0.17L1,0.17L-1,0.17Z M0.32,0A0.32,0.32,0,1,1,-0.32,0A0.32,0.32,0,1,1,0.32,0Z",
      "symbolSize":2809,"symbolStrokeWidth":0,"symbolOpacity":1,"labelFontSize":33.5,"labelFont":"Liberation Sans","labelColor":"black",
      "columnPadding":144,"labelOffset":27,"labelLimit":600}}}},
  {"transform":[{"filter":"datum.k == 'line'"}],
   "mark":{"type":"line","strokeWidth":9,"strokeCap":"butt"},
   "encoding":{
    "x":{"field":"x","type":"quantitative","scale":{"domain":[-2.32,2.21],"nice":false,"zero":false},"title":null,
     "axis":{"values":[-1.5,-0.5,0.5,1.5],"gridWidth":2,"labels":false,"ticks":false,"domain":false,"orient":"bottom"}},
    "y":{"field":"y","type":"quantitative","scale":{"domain":[-2.8,12.05],"nice":false,"zero":false},"title":null,
     "axis":{"values":[-2,2,6,10],"gridWidth":2,"labels":false,"ticks":false,"domain":false,"orient":"left"}},
    "stroke":{"field":"g","type":"nominal","scale":{"domain":["n","p"],"range":["#1874CD","#262626"]},"legend":null}}}
 ]
},
"config":{
 "font":"Liberation Sans",
 "view":{"fill":"#EBEBEB","stroke":null},
 "axis":{"domain":false,"grid":true,"gridColor":"#FFFFFF","tickColor":"#333333","tickSize":9,"tickWidth":3,
  "labelColor":"#4D4D4D","labelFontSize":33,"labelFont":"Liberation Sans",
  "titleFontSize":42,"titleFont":"Liberation Sans","titleColor":"#000000","titleFontWeight":"normal"}
}
}
